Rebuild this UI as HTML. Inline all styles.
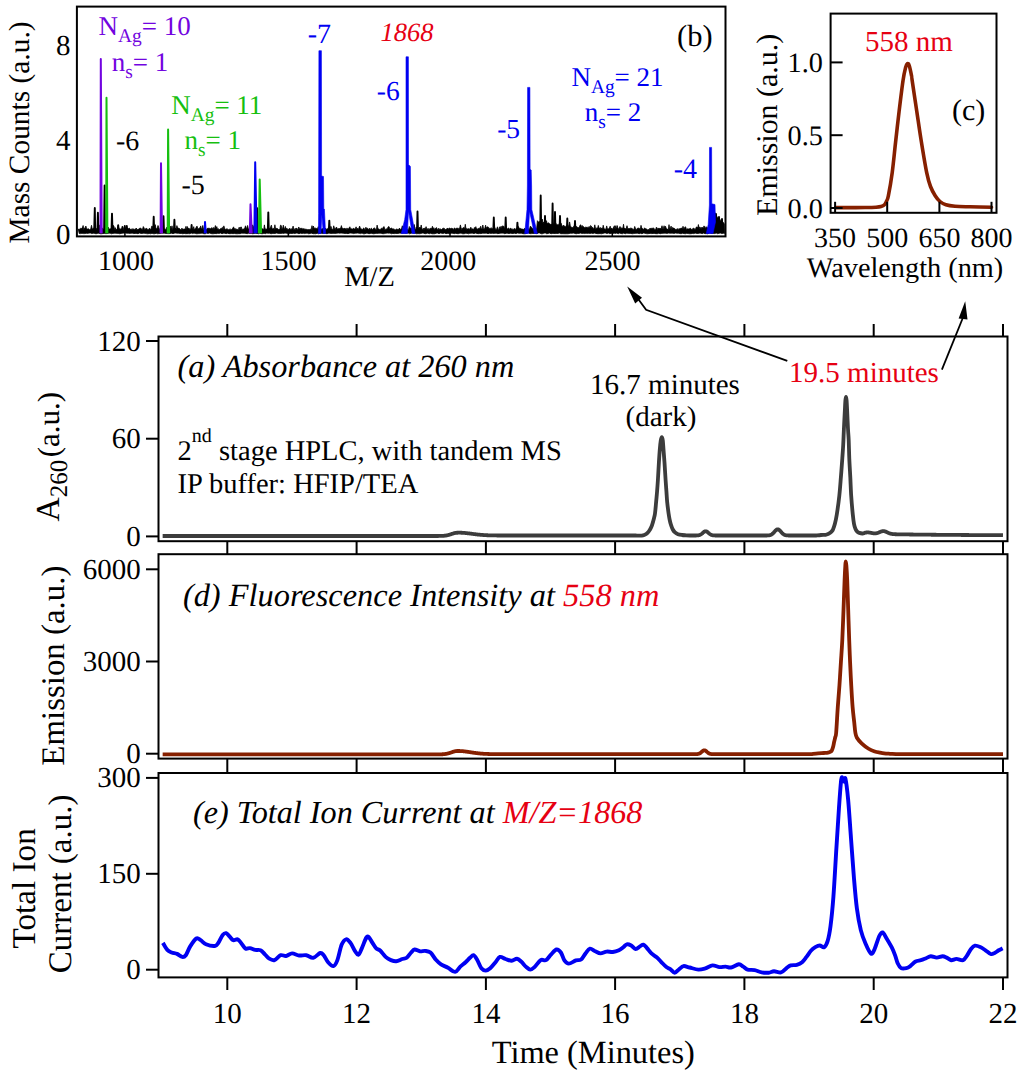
<!DOCTYPE html>
<html><head><meta charset="utf-8"><style>
html,body{margin:0;padding:0;background:#fff;width:1024px;height:1075px;overflow:hidden;}
svg{display:block;font-family:"Liberation Serif",serif;text-rendering:geometricPrecision;}
</style></head><body>
<svg width="1024" height="1075" viewBox="0 0 1024 1075" font-family="Liberation Serif, serif">
<path d="M78.20,228.80 L78.90,229.75 L79.60,228.92 L80.30,228.27 L81.00,229.16 L81.70,228.09 L82.40,228.08 L83.10,225.54 L83.80,229.83 L84.50,228.09 L85.20,227.42 L85.90,226.08 L86.60,228.78 L87.30,228.94 L88.00,228.90 L88.70,228.81 L89.40,229.90 L90.10,229.58 L90.80,228.53 L91.50,225.33 L92.20,228.70 L92.90,228.67 L93.60,228.01 L94.30,229.72 L95.00,229.86 L95.70,228.05 L96.40,229.46 L97.10,228.07 L97.80,229.83 L98.50,228.14 L99.20,224.87 L99.90,228.26 L100.60,225.75 L101.30,228.16 L102.00,228.13 L102.70,228.33 L103.40,229.84 L104.10,228.51 L104.80,228.32 L105.50,229.61 L106.20,228.10 L106.90,228.33 L107.60,229.45 L108.30,227.24 L109.00,229.07 L109.70,229.10 L110.40,228.81 L111.10,228.87 L111.80,228.20 L112.50,229.72 L113.20,225.33 L113.90,226.12 L114.60,229.66 L115.30,227.63 L116.00,229.83 L116.70,229.31 L117.40,229.55 L118.10,225.47 L118.80,228.04 L119.50,229.02 L120.20,229.13 L120.90,228.69 L121.60,228.44 L122.30,225.99 L123.00,227.03 L123.70,229.68 L124.40,229.21 L125.10,227.97 L125.80,227.94 L126.50,229.30 L127.20,227.94 L127.90,228.86 L128.60,228.54 L129.30,228.05 L130.00,229.37 L130.70,229.37 L131.40,229.49 L132.10,228.60 L132.80,229.70 L133.50,228.73 L134.20,229.63 L134.90,229.15 L135.60,229.07 L136.30,228.06 L137.00,229.89 L137.70,229.36 L138.40,229.37 L139.10,228.78 L139.80,228.07 L140.50,227.96 L141.20,228.86 L141.90,229.30 L142.60,229.13 L143.30,226.57 L144.00,227.78 L144.70,229.71 L145.40,228.78 L146.10,228.55 L146.80,228.30 L147.50,229.51 L148.20,229.66 L148.90,229.07 L149.60,228.17 L150.30,229.57 L151.00,229.32 L151.70,226.19 L152.40,226.29 L153.10,229.15 L153.80,228.53 L154.50,229.86 L155.20,224.61 L155.90,227.98 L156.60,229.04 L157.30,228.10 L158.00,225.49 L158.70,227.24 L159.40,229.16 L160.10,229.16 L160.80,229.51 L161.50,226.94 L162.20,225.94 L162.90,227.57 L163.60,228.59 L164.30,228.94 L165.00,229.41 L165.70,229.48 L166.40,228.07 L167.10,227.07 L167.80,229.15 L168.50,228.65 L169.20,229.66 L169.90,229.79 L170.60,226.18 L171.30,229.54 L172.00,225.82 L172.70,229.86 L173.40,228.97 L174.10,228.54 L174.80,229.61 L175.50,228.07 L176.20,229.00 L176.90,225.61 L177.60,228.03 L178.30,228.25 L179.00,228.06 L179.70,228.93 L180.40,229.58 L181.10,229.79 L181.80,228.18 L182.50,228.95 L183.20,229.36 L183.90,228.95 L184.60,229.02 L185.30,228.66 L186.00,226.32 L186.70,229.84 L187.40,226.55 L188.10,228.91 L188.80,227.96 L189.50,228.93 L190.20,229.50 L190.90,228.88 L191.60,228.03 L192.30,228.73 L193.00,229.75 L193.70,226.63 L194.40,229.53 L195.10,228.85 L195.80,228.28 L196.50,226.57 L197.20,226.31 L197.90,229.27 L198.60,228.61 L199.30,228.11 L200.00,228.15 L200.70,225.92 L201.40,228.77 L202.10,228.73 L202.80,225.45 L203.50,229.18 L204.20,229.60 L204.90,229.61 L205.60,229.38 L206.30,229.71 L207.00,228.53 L207.70,228.34 L208.40,228.00 L209.10,229.35 L209.80,228.09 L210.50,228.74 L211.20,228.15 L211.90,227.71 L212.60,229.26 L213.30,227.42 L214.00,229.42 L214.70,228.07 L215.40,225.57 L216.10,228.93 L216.80,226.62 L217.50,229.58 L218.20,228.58 L218.90,229.80 L219.60,229.43 L220.30,228.83 L221.00,228.76 L221.70,227.93 L222.40,227.32 L223.10,229.38 L223.80,225.86 L224.50,227.93 L225.20,229.50 L225.90,229.62 L226.60,228.71 L227.30,228.91 L228.00,229.51 L228.70,229.72 L229.40,229.46 L230.10,228.71 L230.80,229.66 L231.50,229.43 L232.20,228.71 L232.90,228.04 L233.60,226.84 L234.30,229.18 L235.00,228.36 L235.70,229.23 L236.40,229.22 L237.10,228.97 L237.80,229.90 L238.50,229.30 L239.20,227.14 L239.90,229.38 L240.60,227.16 L241.30,226.95 L242.00,229.71 L242.70,228.92 L243.40,229.04 L244.10,229.18 L244.80,228.05 L245.50,225.81 L246.20,228.22 L246.90,228.24 L247.60,225.48 L248.30,228.74 L249.00,229.10 L249.70,228.47 L250.40,229.02 L251.10,229.33 L251.80,227.93 L252.50,224.87 L253.20,228.68 L253.90,225.63 L254.60,226.25 L255.30,228.76 L256.00,229.85 L256.70,228.95 L257.40,229.35 L258.10,229.86 L258.80,226.36 L259.50,227.67 L260.20,226.72 L260.90,229.24 L261.60,228.42 L262.30,228.74 L263.00,228.96 L263.70,229.81 L264.40,224.88 L265.10,229.47 L265.80,228.62 L266.50,229.27 L267.20,229.08 L267.90,227.71 L268.60,229.86 L269.30,228.49 L270.00,228.44 L270.70,226.63 L271.40,225.15 L272.10,229.00 L272.80,228.65 L273.50,228.32 L274.20,229.39 L274.90,224.78 L275.60,229.15 L276.30,228.33 L277.00,228.42 L277.70,228.64 L278.40,229.88 L279.10,229.00 L279.80,229.74 L280.50,225.19 L281.20,225.48 L281.90,228.87 L282.60,228.50 L283.30,225.20 L284.00,228.06 L284.70,229.35 L285.40,226.46 L286.10,229.35 L286.80,228.13 L287.50,229.04 L288.20,229.78 L288.90,228.78 L289.60,228.51 L290.30,228.70 L291.00,229.69 L291.70,228.62 L292.40,228.63 L293.10,226.10 L293.80,229.49 L294.50,229.57 L295.20,228.25 L295.90,229.66 L296.60,227.94 L297.30,228.99 L298.00,229.83 L298.70,226.98 L299.40,228.25 L300.10,229.37 L300.80,228.07 L301.50,228.19 L302.20,229.20 L302.90,228.34 L303.60,228.94 L304.30,228.69 L305.00,229.84 L305.70,228.89 L306.40,229.34 L307.10,229.73 L307.80,229.55 L308.50,229.61 L309.20,229.57 L309.90,229.82 L310.60,228.95 L311.30,229.50 L312.00,225.67 L312.70,229.88 L313.40,226.05 L314.10,228.48 L314.80,228.02 L315.50,228.13 L316.20,228.28 L316.90,228.82 L317.60,228.41 L318.30,226.61 L319.00,229.33 L319.70,226.56 L320.40,228.25 L321.10,228.52 L321.80,229.53 L322.50,228.42 L323.20,229.73 L323.90,228.99 L324.60,228.87 L325.30,228.00 L326.00,229.50 L326.70,228.96 L327.40,228.45 L328.10,229.22 L328.80,227.92 L329.50,228.64 L330.20,229.33 L330.90,226.31 L331.60,228.42 L332.30,228.93 L333.00,229.89 L333.70,225.81 L334.40,227.90 L335.10,229.59 L335.80,228.06 L336.50,226.99 L337.20,228.84 L337.90,229.07 L338.60,228.51 L339.30,228.73 L340.00,228.08 L340.70,228.32 L341.40,225.62 L342.10,228.52 L342.80,228.05 L343.50,228.83 L344.20,228.62 L344.90,228.11 L345.60,228.82 L346.30,229.56 L347.00,227.92 L347.70,229.32 L348.40,229.03 L349.10,227.92 L349.80,226.77 L350.50,228.48 L351.20,228.98 L351.90,228.57 L352.60,229.23 L353.30,228.30 L354.00,228.56 L354.70,229.03 L355.40,228.56 L356.10,226.82 L356.80,229.26 L357.50,228.26 L358.20,229.57 L358.90,228.08 L359.60,226.08 L360.30,228.05 L361.00,228.75 L361.70,229.19 L362.40,229.54 L363.10,228.56 L363.80,227.93 L364.50,229.30 L365.20,229.48 L365.90,227.19 L366.60,228.58 L367.30,228.11 L368.00,228.92 L368.70,229.55 L369.40,228.22 L370.10,229.71 L370.80,228.61 L371.50,228.18 L372.20,229.87 L372.90,229.33 L373.60,228.29 L374.30,227.92 L375.00,228.39 L375.70,229.29 L376.40,229.76 L377.10,225.10 L377.80,228.17 L378.50,228.99 L379.20,229.02 L379.90,229.72 L380.60,229.54 L381.30,228.15 L382.00,228.48 L382.70,228.38 L383.40,227.03 L384.10,226.55 L384.80,229.87 L385.50,229.22 L386.20,229.24 L386.90,228.66 L387.60,227.95 L388.30,226.75 L389.00,226.58 L389.70,228.43 L390.40,228.56 L391.10,227.98 L391.80,228.19 L392.50,229.10 L393.20,228.72 L393.90,229.28 L394.60,229.40 L395.30,229.89 L396.00,229.61 L396.70,228.77 L397.40,229.71 L398.10,228.95 L398.80,229.71 L399.50,228.01 L400.20,229.70 L400.90,229.10 L401.60,228.51 L402.30,225.79 L403.00,228.91 L403.70,228.00 L404.40,228.95 L405.10,228.51 L405.80,224.82 L406.50,229.83 L407.20,229.63 L407.90,229.51 L408.60,229.39 L409.30,226.49 L410.00,228.15 L410.70,228.12 L411.40,228.50 L412.10,228.03 L412.80,229.53 L413.50,228.61 L414.20,224.48 L414.90,228.52 L415.60,229.77 L416.30,227.02 L417.00,229.75 L417.70,228.29 L418.40,228.61 L419.10,228.24 L419.80,227.12 L420.50,228.28 L421.20,224.97 L421.90,228.53 L422.60,229.64 L423.30,228.17 L424.00,229.78 L424.70,228.06 L425.40,228.51 L426.10,226.63 L426.80,229.23 L427.50,228.65 L428.20,229.67 L428.90,228.36 L429.60,229.75 L430.30,228.45 L431.00,228.08 L431.70,228.78 L432.40,226.28 L433.10,228.47 L433.80,227.71 L434.50,229.41 L435.20,228.46 L435.90,228.27 L436.60,227.58 L437.30,229.40 L438.00,229.76 L438.70,228.26 L439.40,229.19 L440.10,229.22 L440.80,228.93 L441.50,229.59 L442.20,228.94 L442.90,228.25 L443.60,228.23 L444.30,228.37 L445.00,229.45 L445.70,229.48 L446.40,228.88 L447.10,229.06 L447.80,227.97 L448.50,229.33 L449.20,228.22 L449.90,227.94 L450.60,228.77 L451.30,228.43 L452.00,228.05 L452.70,229.04 L453.40,229.48 L454.10,228.19 L454.80,227.98 L455.50,229.14 L456.20,228.43 L456.90,228.08 L457.60,228.24 L458.30,228.22 L459.00,229.56 L459.70,228.02 L460.40,224.91 L461.10,227.98 L461.80,229.42 L462.50,228.19 L463.20,227.72 L463.90,227.58 L464.60,228.50 L465.30,224.26 L466.00,229.43 L466.70,228.36 L467.40,229.00 L468.10,228.82 L468.80,228.63 L469.50,229.86 L470.20,227.98 L470.90,227.24 L471.60,229.29 L472.30,229.08 L473.00,228.83 L473.70,229.59 L474.40,227.49 L475.10,228.27 L475.80,226.63 L476.50,228.84 L477.20,228.79 L477.90,229.26 L478.60,228.31 L479.30,228.05 L480.00,228.63 L480.70,226.20 L481.40,228.69 L482.10,229.33 L482.80,225.00 L483.50,228.62 L484.20,229.35 L484.90,227.94 L485.60,225.20 L486.30,228.55 L487.00,226.84 L487.70,226.95 L488.40,227.22 L489.10,228.75 L489.80,228.17 L490.50,228.42 L491.20,227.66 L491.90,228.46 L492.60,228.71 L493.30,229.63 L494.00,228.48 L494.70,227.26 L495.40,229.16 L496.10,229.52 L496.80,228.50 L497.50,226.81 L498.20,229.23 L498.90,229.64 L499.60,226.97 L500.30,226.61 L501.00,228.56 L501.70,226.33 L502.40,225.99 L503.10,226.42 L503.80,226.11 L504.50,229.30 L505.20,227.20 L505.90,226.50 L506.60,228.01 L507.30,229.07 L508.00,228.55 L508.70,227.95 L509.40,229.68 L510.10,228.42 L510.80,228.27 L511.50,229.13 L512.20,228.63 L512.90,229.78 L513.60,229.15 L514.30,228.72 L515.00,228.45 L515.70,229.66 L516.40,228.34 L517.10,228.91 L517.80,228.62 L518.50,226.56 L519.20,229.26 L519.90,227.90 L520.60,228.69 L521.30,228.89 L522.00,229.00 L522.70,229.02 L523.40,229.84 L524.10,228.59 L524.80,228.53 L525.50,229.29 L526.20,229.83 L526.90,228.22 L527.60,228.88 L528.30,228.64 L529.00,229.40 L529.70,228.37 L530.40,226.11 L531.10,226.96 L531.80,228.10 L532.50,228.13 L533.20,229.44 L533.90,228.23 L534.60,227.93 L535.30,228.91 L536.00,228.68 L536.70,228.40 L537.40,220.68 L538.10,221.75 L538.80,222.09 L539.50,221.47 L540.20,222.07 L540.90,220.56 L541.60,222.54 L542.30,219.11 L543.00,223.43 L543.70,221.98 L544.40,222.72 L545.10,222.83 L545.80,221.18 L546.50,220.78 L547.20,223.96 L547.90,222.88 L548.60,222.83 L549.30,223.88 L550.00,223.67 L550.70,224.85 L551.40,224.09 L552.10,224.96 L552.80,224.32 L553.50,224.75 L554.20,222.77 L554.90,225.75 L555.60,223.06 L556.30,224.13 L557.00,224.48 L557.70,224.84 L558.40,225.35 L559.10,223.82 L559.80,226.36 L560.50,222.46 L561.20,223.31 L561.90,225.80 L562.60,226.53 L563.30,225.11 L564.00,226.38 L564.70,225.70 L565.40,226.95 L566.10,226.17 L566.80,225.73 L567.50,224.55 L568.20,226.21 L568.90,226.17 L569.60,221.95 L570.30,225.70 L571.00,227.36 L571.70,227.26 L572.40,227.46 L573.10,227.44 L573.80,226.16 L574.50,226.81 L575.20,226.56 L575.90,226.16 L576.60,226.61 L577.30,226.94 L578.00,227.87 L578.70,227.57 L579.40,226.89 L580.10,225.08 L580.80,224.82 L581.50,227.55 L582.20,225.45 L582.90,227.23 L583.60,226.59 L584.30,227.41 L585.00,227.71 L585.70,227.08 L586.40,227.35 L587.10,226.95 L587.80,227.63 L588.50,227.24 L589.20,226.47 L589.90,228.21 L590.60,225.53 L591.30,226.11 L592.00,227.69 L592.70,227.39 L593.40,228.76 L594.10,228.27 L594.80,224.82 L595.50,228.44 L596.20,228.41 L596.90,227.87 L597.60,228.32 L598.30,225.42 L599.00,228.06 L599.70,228.37 L600.40,227.51 L601.10,229.21 L601.80,227.86 L602.50,229.23 L603.20,225.24 L603.90,228.27 L604.60,228.99 L605.30,229.20 L606.00,228.93 L606.70,225.90 L607.40,228.79 L608.10,228.99 L608.80,228.47 L609.50,227.80 L610.20,226.15 L610.90,229.01 L611.60,227.93 L612.30,229.17 L613.00,228.57 L613.70,227.05 L614.40,225.72 L615.10,229.23 L615.80,225.66 L616.50,229.22 L617.20,225.57 L617.90,227.96 L618.60,229.31 L619.30,227.96 L620.00,226.48 L620.70,228.21 L621.40,228.15 L622.10,227.63 L622.80,228.99 L623.50,224.24 L624.20,228.84 L624.90,228.02 L625.60,229.02 L626.30,228.36 L627.00,225.70 L627.70,228.51 L628.40,228.48 L629.10,228.68 L629.80,228.37 L630.50,228.15 L631.20,228.26 L631.90,228.27 L632.60,229.05 L633.30,229.57 L634.00,229.19 L634.70,226.44 L635.40,228.28 L636.10,229.63 L636.80,229.12 L637.50,228.22 L638.20,228.00 L638.90,228.24 L639.60,228.43 L640.30,229.45 L641.00,225.34 L641.70,227.93 L642.40,228.51 L643.10,229.10 L643.80,229.56 L644.50,227.82 L645.20,228.71 L645.90,228.71 L646.60,229.12 L647.30,229.73 L648.00,229.77 L648.70,229.45 L649.40,229.20 L650.10,228.03 L650.80,228.70 L651.50,228.34 L652.20,228.32 L652.90,228.19 L653.60,227.92 L654.30,229.20 L655.00,229.38 L655.70,229.52 L656.40,227.14 L657.10,227.93 L657.80,229.79 L658.50,227.95 L659.20,228.97 L659.90,228.12 L660.60,228.50 L661.30,228.15 L662.00,225.73 L662.70,228.49 L663.40,228.39 L664.10,225.74 L664.80,229.02 L665.50,226.22 L666.20,228.21 L666.90,228.95 L667.60,229.12 L668.30,229.83 L669.00,224.63 L669.70,229.37 L670.40,228.21 L671.10,226.11 L671.80,229.83 L672.50,227.43 L673.20,228.06 L673.90,228.12 L674.60,228.56 L675.30,229.21 L676.00,229.79 L676.70,228.90 L677.40,228.69 L678.10,229.38 L678.80,228.64 L679.50,228.85 L680.20,228.76 L680.90,228.00 L681.60,228.02 L682.30,229.00 L683.00,226.30 L683.70,228.53 L684.40,228.36 L685.10,226.74 L685.80,227.17 L686.50,229.82 L687.20,229.10 L687.90,228.50 L688.60,229.08 L689.30,228.90 L690.00,228.15 L690.70,228.40 L691.40,229.49 L692.10,229.62 L692.80,228.47 L693.50,228.07 L694.20,229.56 L694.90,228.53 L695.60,229.48 L696.30,227.01 L697.00,227.00 L697.70,228.00 L698.40,224.56 L699.10,228.41 L699.80,226.91 L700.50,227.74 L701.20,228.87 L701.90,227.05 L702.60,227.78 L703.30,227.66 L704.00,225.88 L704.70,227.04 L705.40,228.57 L706.10,226.66 L706.80,227.52 L707.50,228.02 L708.20,227.32 L708.90,227.97 L709.60,227.15 L710.30,225.64 L711.00,227.66 L711.70,228.76 L712.40,229.28 L713.10,207.60 L713.80,210.79 L714.50,212.10 L715.20,213.18 L715.90,215.10 L716.60,215.69 L717.30,217.52 L718.00,217.86 L718.70,219.45 L719.40,219.62 L720.10,219.44 L720.80,220.70 L721.50,220.27 L722.20,221.45 L722.90,222.07 L723.60,222.80 L724.30,223.94 L724.60,233.39 L723.20,233.19 L721.80,233.60 L720.40,233.08 L719.00,233.25 L717.60,233.68 L716.20,233.03 L714.80,233.56 L713.40,233.45 L712.00,233.44 L710.60,233.27 L709.20,233.12 L707.80,233.76 L706.40,233.61 L705.00,233.64 L703.60,233.08 L702.20,233.63 L700.80,233.17 L699.40,233.16 L698.00,233.43 L696.60,233.49 L695.20,233.10 L693.80,233.61 L692.40,233.47 L691.00,233.72 L689.60,233.74 L688.20,233.55 L686.80,233.29 L685.40,233.76 L684.00,233.57 L682.60,233.23 L681.20,233.69 L679.80,233.58 L678.40,233.21 L677.00,233.20 L675.60,233.02 L674.20,233.43 L672.80,233.20 L671.40,233.23 L670.00,233.20 L668.60,233.11 L667.20,233.39 L665.80,233.22 L664.40,233.23 L663.00,233.22 L661.60,233.41 L660.20,233.70 L658.80,233.13 L657.40,233.69 L656.00,233.68 L654.60,233.49 L653.20,233.44 L651.80,233.59 L650.40,233.43 L649.00,233.53 L647.60,233.74 L646.20,233.62 L644.80,233.21 L643.40,233.04 L642.00,233.75 L640.60,233.29 L639.20,233.63 L637.80,233.19 L636.40,233.36 L635.00,233.30 L633.60,233.58 L632.20,233.75 L630.80,233.40 L629.40,233.45 L628.00,233.28 L626.60,233.19 L625.20,233.76 L623.80,233.09 L622.40,233.75 L621.00,233.53 L619.60,233.06 L618.20,233.72 L616.80,233.08 L615.40,233.45 L614.00,233.10 L612.60,233.79 L611.20,233.25 L609.80,233.70 L608.40,233.05 L607.00,233.53 L605.60,233.05 L604.20,233.02 L602.80,233.46 L601.40,233.79 L600.00,233.55 L598.60,233.68 L597.20,233.63 L595.80,233.42 L594.40,233.06 L593.00,233.42 L591.60,233.15 L590.20,233.42 L588.80,233.28 L587.40,233.40 L586.00,233.16 L584.60,233.56 L583.20,233.33 L581.80,233.39 L580.40,233.06 L579.00,233.39 L577.60,233.45 L576.20,233.78 L574.80,233.45 L573.40,233.11 L572.00,233.24 L570.60,233.27 L569.20,233.56 L567.80,233.75 L566.40,233.78 L565.00,233.76 L563.60,233.74 L562.20,233.69 L560.80,233.75 L559.40,233.02 L558.00,233.39 L556.60,233.47 L555.20,233.55 L553.80,233.49 L552.40,233.49 L551.00,233.75 L549.60,233.07 L548.20,233.42 L546.80,233.77 L545.40,233.03 L544.00,233.09 L542.60,233.70 L541.20,233.77 L539.80,233.02 L538.40,233.03 L537.00,233.66 L535.60,233.55 L534.20,233.42 L532.80,233.46 L531.40,233.61 L530.00,233.65 L528.60,233.00 L527.20,233.05 L525.80,233.64 L524.40,233.78 L523.00,233.67 L521.60,233.33 L520.20,233.27 L518.80,233.28 L517.40,233.01 L516.00,233.62 L514.60,233.21 L513.20,233.47 L511.80,233.42 L510.40,233.27 L509.00,233.54 L507.60,233.36 L506.20,233.19 L504.80,233.71 L503.40,233.14 L502.00,233.12 L500.60,233.20 L499.20,233.38 L497.80,233.63 L496.40,233.27 L495.00,233.19 L493.60,233.52 L492.20,233.21 L490.80,233.42 L489.40,233.20 L488.00,233.70 L486.60,233.15 L485.20,233.19 L483.80,233.24 L482.40,233.26 L481.00,233.58 L479.60,233.54 L478.20,233.63 L476.80,233.43 L475.40,233.06 L474.00,233.61 L472.60,233.20 L471.20,233.17 L469.80,233.33 L468.40,233.79 L467.00,233.30 L465.60,233.29 L464.20,233.73 L462.80,233.79 L461.40,233.31 L460.00,233.11 L458.60,233.63 L457.20,233.63 L455.80,233.27 L454.40,233.63 L453.00,233.30 L451.60,233.23 L450.20,233.47 L448.80,233.59 L447.40,233.38 L446.00,233.65 L444.60,233.01 L443.20,233.40 L441.80,233.30 L440.40,233.05 L439.00,233.73 L437.60,233.11 L436.20,233.16 L434.80,233.70 L433.40,233.77 L432.00,233.75 L430.60,233.27 L429.20,233.74 L427.80,233.11 L426.40,233.57 L425.00,233.76 L423.60,233.15 L422.20,233.11 L420.80,233.54 L419.40,233.71 L418.00,233.58 L416.60,233.76 L415.20,233.36 L413.80,233.30 L412.40,233.10 L411.00,233.22 L409.60,233.75 L408.20,233.06 L406.80,233.15 L405.40,233.28 L404.00,233.04 L402.60,233.25 L401.20,233.15 L399.80,233.10 L398.40,233.42 L397.00,233.43 L395.60,233.45 L394.20,233.61 L392.80,233.42 L391.40,233.76 L390.00,233.07 L388.60,233.18 L387.20,233.06 L385.80,233.25 L384.40,233.61 L383.00,233.74 L381.60,233.40 L380.20,233.13 L378.80,233.26 L377.40,233.45 L376.00,233.24 L374.60,233.63 L373.20,233.78 L371.80,233.37 L370.40,233.48 L369.00,233.68 L367.60,233.37 L366.20,233.15 L364.80,233.76 L363.40,233.78 L362.00,233.02 L360.60,233.61 L359.20,233.32 L357.80,233.04 L356.40,233.13 L355.00,233.14 L353.60,233.59 L352.20,233.17 L350.80,233.02 L349.40,233.18 L348.00,233.64 L346.60,233.40 L345.20,233.52 L343.80,233.37 L342.40,233.15 L341.00,233.01 L339.60,233.24 L338.20,233.03 L336.80,233.21 L335.40,233.50 L334.00,233.30 L332.60,233.38 L331.20,233.50 L329.80,233.25 L328.40,233.29 L327.00,233.71 L325.60,233.46 L324.20,233.33 L322.80,233.43 L321.40,233.37 L320.00,233.27 L318.60,233.73 L317.20,233.19 L315.80,233.75 L314.40,233.68 L313.00,233.71 L311.60,233.13 L310.20,233.41 L308.80,233.79 L307.40,233.23 L306.00,233.14 L304.60,233.58 L303.20,233.19 L301.80,233.47 L300.40,233.13 L299.00,233.76 L297.60,233.23 L296.20,233.08 L294.80,233.55 L293.40,233.28 L292.00,233.45 L290.60,233.40 L289.20,233.74 L287.80,233.41 L286.40,233.30 L285.00,233.00 L283.60,233.40 L282.20,233.22 L280.80,233.46 L279.40,233.51 L278.00,233.37 L276.60,233.07 L275.20,233.40 L273.80,233.39 L272.40,233.51 L271.00,233.78 L269.60,233.22 L268.20,233.35 L266.80,233.07 L265.40,233.64 L264.00,233.19 L262.60,233.66 L261.20,233.64 L259.80,233.20 L258.40,233.72 L257.00,233.40 L255.60,233.34 L254.20,233.44 L252.80,233.76 L251.40,233.39 L250.00,233.39 L248.60,233.23 L247.20,233.67 L245.80,233.40 L244.40,233.27 L243.00,233.16 L241.60,233.17 L240.20,233.67 L238.80,233.64 L237.40,233.78 L236.00,233.73 L234.60,233.55 L233.20,233.64 L231.80,233.57 L230.40,233.65 L229.00,233.64 L227.60,233.14 L226.20,233.65 L224.80,233.24 L223.40,233.20 L222.00,233.74 L220.60,233.02 L219.20,233.41 L217.80,233.27 L216.40,233.63 L215.00,233.49 L213.60,233.73 L212.20,233.75 L210.80,233.52 L209.40,233.05 L208.00,233.53 L206.60,233.09 L205.20,233.79 L203.80,233.70 L202.40,233.25 L201.00,233.15 L199.60,233.56 L198.20,233.61 L196.80,233.79 L195.40,233.50 L194.00,233.10 L192.60,233.58 L191.20,233.05 L189.80,233.69 L188.40,233.61 L187.00,233.63 L185.60,233.70 L184.20,233.46 L182.80,233.75 L181.40,233.51 L180.00,233.39 L178.60,233.31 L177.20,233.28 L175.80,233.02 L174.40,233.13 L173.00,233.64 L171.60,233.18 L170.20,233.52 L168.80,233.62 L167.40,233.56 L166.00,233.41 L164.60,233.25 L163.20,233.22 L161.80,233.15 L160.40,233.52 L159.00,233.55 L157.60,233.75 L156.20,233.26 L154.80,233.74 L153.40,233.73 L152.00,233.23 L150.60,233.76 L149.20,233.50 L147.80,233.77 L146.40,233.62 L145.00,233.27 L143.60,233.22 L142.20,233.42 L140.80,233.39 L139.40,233.03 L138.00,233.69 L136.60,233.43 L135.20,233.38 L133.80,233.60 L132.40,233.20 L131.00,233.16 L129.60,233.46 L128.20,233.19 L126.80,233.26 L125.40,233.06 L124.00,233.04 L122.60,233.28 L121.20,233.42 L119.80,233.76 L118.40,233.51 L117.00,233.33 L115.60,233.33 L114.20,233.19 L112.80,233.38 L111.40,233.77 L110.00,233.10 L108.60,233.35 L107.20,233.55 L105.80,233.61 L104.40,233.44 L103.00,233.51 L101.60,233.75 L100.20,233.72 L98.80,233.20 L97.40,233.43 L96.00,233.80 L94.60,233.42 L93.20,233.15 L91.80,233.61 L90.40,233.05 L89.00,233.12 L87.60,233.44 L86.20,233.22 L84.80,233.58 L83.40,233.58 L82.00,233.26 L80.60,233.61 L79.20,233.52 Z" fill="#000" stroke="#000" stroke-width="0.8" stroke-linejoin="round"/>
<path d="M94.2,231 L94.8,208.0 L95.2,231" fill="none" stroke="#000" stroke-width="1.9" stroke-linejoin="round"/>
<path d="M97.4,231 L97.9,212.8 L98.4,231" fill="none" stroke="#000" stroke-width="1.9" stroke-linejoin="round"/>
<path d="M104.1,231 L104.6,185.5 L105.1,231" fill="none" stroke="#000" stroke-width="1.9" stroke-linejoin="round"/>
<path d="M111.5,231 L112.0,213.6 L112.5,231" fill="none" stroke="#000" stroke-width="1.9" stroke-linejoin="round"/>
<path d="M117.7,231 L118.2,225.3 L118.7,231" fill="none" stroke="#000" stroke-width="1.9" stroke-linejoin="round"/>
<path d="M124.2,231 L124.8,226.0 L125.2,231" fill="none" stroke="#000" stroke-width="1.9" stroke-linejoin="round"/>
<path d="M126.3,231 L126.8,226.0 L127.3,231" fill="none" stroke="#000" stroke-width="1.9" stroke-linejoin="round"/>
<path d="M153.2,231 L153.7,216.7 L154.2,231" fill="none" stroke="#000" stroke-width="1.9" stroke-linejoin="round"/>
<path d="M163.0,231 L163.5,216.3 L164.0,231" fill="none" stroke="#000" stroke-width="1.9" stroke-linejoin="round"/>
<path d="M173.9,231 L174.4,219.8 L174.9,231" fill="none" stroke="#000" stroke-width="1.9" stroke-linejoin="round"/>
<path d="M191.1,231 L191.6,225.0 L192.1,231" fill="none" stroke="#000" stroke-width="1.9" stroke-linejoin="round"/>
<path d="M256.7,231 L257.2,208.3 L257.7,231" fill="none" stroke="#000" stroke-width="1.9" stroke-linejoin="round"/>
<path d="M267.8,231 L268.3,212.4 L268.8,231" fill="none" stroke="#000" stroke-width="1.9" stroke-linejoin="round"/>
<path d="M328.8,231 L329.3,220.6 L329.8,231" fill="none" stroke="#000" stroke-width="1.9" stroke-linejoin="round"/>
<path d="M417.0,231 L417.5,211.4 L418.0,231" fill="none" stroke="#000" stroke-width="1.9" stroke-linejoin="round"/>
<path d="M493.3,231 L493.8,217.5 L494.3,231" fill="none" stroke="#000" stroke-width="1.9" stroke-linejoin="round"/>
<path d="M505.2,231 L505.7,217.5 L506.2,231" fill="none" stroke="#000" stroke-width="1.9" stroke-linejoin="round"/>
<path d="M516.9,231 L517.4,222.6 L517.9,231" fill="none" stroke="#000" stroke-width="1.9" stroke-linejoin="round"/>
<path d="M540.2,231 L540.7,195.5 L541.2,231" fill="none" stroke="#000" stroke-width="1.9" stroke-linejoin="round"/>
<path d="M552.1,231 L552.6,203.5 L553.1,231" fill="none" stroke="#000" stroke-width="1.9" stroke-linejoin="round"/>
<path d="M554.5,231 L555.0,212.0 L555.5,231" fill="none" stroke="#000" stroke-width="1.9" stroke-linejoin="round"/>
<path d="M566.8,231 L567.3,218.5 L567.8,231" fill="none" stroke="#000" stroke-width="1.9" stroke-linejoin="round"/>
<path d="M574.5,231 L575.0,221.0 L575.5,231" fill="none" stroke="#000" stroke-width="1.9" stroke-linejoin="round"/>
<path d="M544.5,231 L545.0,216.0 L545.5,231" fill="none" stroke="#000" stroke-width="1.9" stroke-linejoin="round"/>
<path d="M559.5,231 L560.0,216.0 L560.5,231" fill="none" stroke="#000" stroke-width="1.9" stroke-linejoin="round"/>
<path d="M715.5,231 L716.0,214.0 L716.5,231" fill="none" stroke="#000" stroke-width="1.9" stroke-linejoin="round"/>
<path d="M718.5,231 L719.0,217.0 L719.5,231" fill="none" stroke="#000" stroke-width="1.9" stroke-linejoin="round"/>
<path d="M721.5,231 L722.0,219.0 L722.5,231" fill="none" stroke="#000" stroke-width="1.9" stroke-linejoin="round"/>
<path d="M100.5,233.3 L100.8,58.9 L101.7,233.3" fill="#7204e0" stroke="#7204e0" stroke-width="2.0" stroke-linejoin="round"/>
<path d="M106.2,233.3 L106.5,97.8 L107.4,233.3" fill="#16bf10" stroke="#16bf10" stroke-width="2.0" stroke-linejoin="round"/>
<path d="M160.6,233.3 L161.0,163.3 L162.0,233.3" fill="#7204e0" stroke="#7204e0" stroke-width="2.0" stroke-linejoin="round"/>
<path d="M167.7,233.3 L168.1,129.5 L169.1,233.3" fill="#16bf10" stroke="#16bf10" stroke-width="2.0" stroke-linejoin="round"/>
<path d="M204.8,233.3 L205.0,221.9 L205.8,233.3" fill="#0000f2" stroke="#0000f2" stroke-width="2.0" stroke-linejoin="round"/>
<path d="M249.8,233.3 L250.5,204.2 L251.8,233.3" fill="#7204e0" stroke="#7204e0" stroke-width="2.0" stroke-linejoin="round"/>
<path d="M254.4,233.3 L255.2,162.2 L256.6,233.3" fill="#0000f2" stroke="#0000f2" stroke-width="2.0" stroke-linejoin="round"/>
<path d="M258.9,233.3 L259.7,179.6 L261.1,233.3" fill="#16bf10" stroke="#16bf10" stroke-width="2.0" stroke-linejoin="round"/>
<path d="M318.4,233.5 L318.6,213.7 L318.9,50.7 L321.4,50.7 L321.6,176.0 L323.5,176.5 L323.8,208.7 L324.4,209.0 L325.6,233.5 L323.3,233.5 L321.8,214.5 L321.0,233.5 Z" fill="#0000f2" stroke="#0000f2" stroke-width="0.6" stroke-linejoin="round"/>
<path d="M401.3,233.5 L404.7,219.5 L406.0,209.5 L406.0,56.8 L408.4,56.8 L408.5,164.4 L410.4,166.4 L410.7,209.5 L415.1,233.5 L412.1,233.5 L408.5,211.0 L407.4,233.5 Z" fill="#0000f2" stroke="#0000f2" stroke-width="0.6" stroke-linejoin="round"/>
<path d="M524.7,233.5 L527.0,209.5 L527.4,185.0 L527.6,87.4 L529.9,87.4 L530.1,169.3 L531.2,170.0 L531.6,186.0 L531.8,209.5 L537.3,233.5 L534.3,233.5 L529.5,211.0 L528.4,233.5 Z" fill="#0000f2" stroke="#0000f2" stroke-width="0.6" stroke-linejoin="round"/>
<path d="M706.3,233.5 L708.2,224.5 L709.4,205.0 L709.5,147.4 L711.6,147.4 L711.8,203.8 L715.0,204.5 L715.5,222.0 L713.0,233.5 Z" fill="#0000f2" stroke="#0000f2" stroke-width="0.6" stroke-linejoin="round"/>
<line x1="124.9" y1="236" x2="124.9" y2="232" stroke="#000" stroke-width="1.5"/>
<line x1="288.3" y1="236" x2="288.3" y2="232" stroke="#000" stroke-width="1.5"/>
<line x1="450.0" y1="236" x2="450.0" y2="232" stroke="#000" stroke-width="1.5"/>
<line x1="612.3" y1="236" x2="612.3" y2="232" stroke="#000" stroke-width="1.5"/>
<rect x="76.9" y="6.6" width="648.6" height="229.8" fill="none" stroke="#000" stroke-width="2"/>
<path d="M835.50,207.60 C837.92,207.60 845.08,207.62 850.00,207.60 C854.92,207.58 860.67,207.57 865.00,207.50 C869.33,207.43 873.33,207.35 876.00,207.20 C878.67,207.05 879.58,207.00 881.00,206.60 C882.42,206.20 883.57,205.73 884.50,204.80 C885.43,203.87 885.95,202.52 886.60,201.00 C887.25,199.48 887.47,200.42 888.40,195.70 C889.33,190.98 891.00,181.65 892.20,172.70 C893.40,163.75 894.45,152.22 895.60,142.00 C896.75,131.78 897.87,121.62 899.10,111.40 C900.33,101.18 901.92,88.02 903.00,80.70 C904.08,73.38 904.87,70.35 905.60,67.50 C906.33,64.65 906.80,63.93 907.40,63.60 C908.00,63.27 908.50,63.43 909.20,65.50 C909.90,67.57 911.10,73.47 911.60,76.00 C912.10,78.53 911.33,74.80 912.20,80.70 C913.07,86.60 915.27,101.18 916.80,111.40 C918.33,121.62 919.75,131.78 921.40,142.00 C923.05,152.22 925.18,165.28 926.70,172.70 C928.22,180.12 929.08,182.67 930.50,186.50 C931.92,190.33 933.62,193.20 935.20,195.70 C936.78,198.20 938.22,199.98 940.00,201.50 C941.78,203.02 943.40,204.00 945.90,204.80 C948.40,205.60 950.98,205.97 955.00,206.30 C959.02,206.63 963.92,206.65 970.00,206.80 C976.08,206.95 987.92,207.13 991.50,207.20" fill="none" stroke="#862000" stroke-width="3.6" stroke-linejoin="round" stroke-linecap="round"/>
<rect x="830.6" y="13.6" width="165.9" height="199.2" fill="none" stroke="#000" stroke-width="2"/>
<line x1="830.6" y1="208.0" x2="842.6" y2="208.0" stroke="#000" stroke-width="2"/>
<line x1="830.6" y1="135.2" x2="842.6" y2="135.2" stroke="#000" stroke-width="2"/>
<line x1="830.6" y1="62.4" x2="842.6" y2="62.4" stroke="#000" stroke-width="2"/>
<line x1="835.1" y1="212.8" x2="835.1" y2="201.8" stroke="#000" stroke-width="2"/>
<line x1="887.2" y1="212.8" x2="887.2" y2="201.8" stroke="#000" stroke-width="2"/>
<line x1="939.4" y1="212.8" x2="939.4" y2="201.8" stroke="#000" stroke-width="2"/>
<line x1="991.5" y1="212.8" x2="991.5" y2="201.8" stroke="#000" stroke-width="2"/>
<rect x="158.5" y="336.5" width="849.0" height="204.7" fill="none" stroke="#000" stroke-width="2"/>
<rect x="158.5" y="554.2" width="849.0" height="204.4" fill="none" stroke="#000" stroke-width="2"/>
<rect x="158.5" y="773.0" width="849.0" height="204.4" fill="none" stroke="#000" stroke-width="2"/>
<line x1="227.3" y1="324.0" x2="227.3" y2="336.5" stroke="#000" stroke-width="2"/>
<line x1="227.3" y1="541.2" x2="227.3" y2="554.2" stroke="#000" stroke-width="2"/>
<line x1="227.3" y1="758.6" x2="227.3" y2="773.0" stroke="#000" stroke-width="2"/>
<line x1="227.3" y1="977.4" x2="227.3" y2="990.0" stroke="#000" stroke-width="2"/>
<line x1="356.6" y1="324.0" x2="356.6" y2="336.5" stroke="#000" stroke-width="2"/>
<line x1="356.6" y1="541.2" x2="356.6" y2="554.2" stroke="#000" stroke-width="2"/>
<line x1="356.6" y1="758.6" x2="356.6" y2="773.0" stroke="#000" stroke-width="2"/>
<line x1="356.6" y1="977.4" x2="356.6" y2="990.0" stroke="#000" stroke-width="2"/>
<line x1="485.9" y1="324.0" x2="485.9" y2="336.5" stroke="#000" stroke-width="2"/>
<line x1="485.9" y1="541.2" x2="485.9" y2="554.2" stroke="#000" stroke-width="2"/>
<line x1="485.9" y1="758.6" x2="485.9" y2="773.0" stroke="#000" stroke-width="2"/>
<line x1="485.9" y1="977.4" x2="485.9" y2="990.0" stroke="#000" stroke-width="2"/>
<line x1="615.1" y1="324.0" x2="615.1" y2="336.5" stroke="#000" stroke-width="2"/>
<line x1="615.1" y1="541.2" x2="615.1" y2="554.2" stroke="#000" stroke-width="2"/>
<line x1="615.1" y1="758.6" x2="615.1" y2="773.0" stroke="#000" stroke-width="2"/>
<line x1="615.1" y1="977.4" x2="615.1" y2="990.0" stroke="#000" stroke-width="2"/>
<line x1="744.4" y1="324.0" x2="744.4" y2="336.5" stroke="#000" stroke-width="2"/>
<line x1="744.4" y1="541.2" x2="744.4" y2="554.2" stroke="#000" stroke-width="2"/>
<line x1="744.4" y1="758.6" x2="744.4" y2="773.0" stroke="#000" stroke-width="2"/>
<line x1="744.4" y1="977.4" x2="744.4" y2="990.0" stroke="#000" stroke-width="2"/>
<line x1="873.7" y1="324.0" x2="873.7" y2="336.5" stroke="#000" stroke-width="2"/>
<line x1="873.7" y1="541.2" x2="873.7" y2="554.2" stroke="#000" stroke-width="2"/>
<line x1="873.7" y1="758.6" x2="873.7" y2="773.0" stroke="#000" stroke-width="2"/>
<line x1="873.7" y1="977.4" x2="873.7" y2="990.0" stroke="#000" stroke-width="2"/>
<line x1="1003.0" y1="324.0" x2="1003.0" y2="336.5" stroke="#000" stroke-width="2"/>
<line x1="1003.0" y1="541.2" x2="1003.0" y2="554.2" stroke="#000" stroke-width="2"/>
<line x1="1003.0" y1="758.6" x2="1003.0" y2="773.0" stroke="#000" stroke-width="2"/>
<line x1="1003.0" y1="977.4" x2="1003.0" y2="990.0" stroke="#000" stroke-width="2"/>
<line x1="146" y1="536.4" x2="158.5" y2="536.4" stroke="#000" stroke-width="2"/>
<line x1="146" y1="438.7" x2="158.5" y2="438.7" stroke="#000" stroke-width="2"/>
<line x1="146" y1="341.0" x2="158.5" y2="341.0" stroke="#000" stroke-width="2"/>
<line x1="146" y1="753.7" x2="158.5" y2="753.7" stroke="#000" stroke-width="2"/>
<line x1="146" y1="661.5" x2="158.5" y2="661.5" stroke="#000" stroke-width="2"/>
<line x1="146" y1="569.3" x2="158.5" y2="569.3" stroke="#000" stroke-width="2"/>
<line x1="146" y1="969.7" x2="158.5" y2="969.7" stroke="#000" stroke-width="2"/>
<line x1="146" y1="873.8" x2="158.5" y2="873.8" stroke="#000" stroke-width="2"/>
<line x1="146" y1="777.9" x2="158.5" y2="777.9" stroke="#000" stroke-width="2"/>
<path d="M162.66,535.99 L162.98,535.99 L163.31,535.99 L163.63,535.99 L163.95,535.99 L164.28,535.99 L164.60,535.99 L164.92,535.99 L165.25,535.99 L165.57,535.99 L165.89,535.99 L166.22,535.99 L166.54,535.99 L166.86,535.99 L167.18,535.99 L167.51,535.99 L167.83,535.99 L168.15,535.99 L168.48,535.99 L168.80,535.99 L169.12,535.99 L169.45,535.99 L169.77,535.99 L170.09,535.99 L170.42,535.99 L170.74,535.99 L171.06,535.99 L171.39,535.99 L171.71,535.99 L172.03,535.99 L172.36,535.99 L172.68,535.99 L173.00,535.99 L173.33,535.99 L173.65,535.99 L173.97,535.99 L174.30,535.99 L174.62,535.99 L174.94,535.99 L175.26,535.99 L175.59,535.99 L175.91,535.99 L176.23,535.99 L176.56,535.99 L176.88,535.99 L177.20,535.99 L177.53,535.99 L177.85,535.99 L178.17,535.99 L178.50,535.99 L178.82,535.99 L179.14,535.99 L179.47,535.99 L179.79,535.99 L180.11,535.99 L180.44,535.99 L180.76,535.99 L181.08,535.99 L181.41,535.99 L181.73,535.99 L182.05,535.99 L182.38,535.99 L182.70,535.99 L183.02,535.99 L183.34,535.99 L183.67,535.99 L183.99,535.99 L184.31,535.99 L184.64,535.99 L184.96,535.99 L185.28,535.99 L185.61,535.99 L185.93,535.99 L186.25,535.99 L186.58,535.99 L186.90,535.99 L187.22,535.99 L187.55,535.99 L187.87,535.99 L188.19,535.99 L188.52,535.99 L188.84,535.99 L189.16,535.99 L189.49,535.99 L189.81,535.99 L190.13,535.99 L190.46,535.99 L190.78,535.99 L191.10,535.99 L191.42,535.99 L191.75,535.99 L192.07,535.99 L192.39,535.99 L192.72,535.99 L193.04,535.99 L193.36,535.99 L193.69,535.99 L194.01,535.99 L194.33,535.99 L194.66,535.99 L194.98,535.99 L195.30,535.99 L195.63,535.99 L195.95,535.99 L196.27,535.99 L196.60,535.99 L196.92,535.99 L197.24,535.99 L197.57,535.99 L197.89,535.99 L198.21,535.99 L198.54,535.99 L198.86,535.99 L199.18,535.99 L199.50,535.99 L199.83,535.99 L200.15,535.99 L200.47,535.99 L200.80,535.99 L201.12,535.99 L201.44,535.99 L201.77,535.99 L202.09,535.99 L202.41,535.99 L202.74,535.99 L203.06,535.99 L203.38,535.99 L203.71,535.99 L204.03,535.99 L204.35,535.99 L204.68,535.99 L205.00,535.99 L205.32,535.99 L205.65,535.99 L205.97,535.99 L206.29,535.99 L206.62,535.99 L206.94,535.99 L207.26,535.99 L207.58,535.99 L207.91,535.99 L208.23,535.99 L208.55,535.99 L208.88,535.99 L209.20,535.99 L209.52,535.99 L209.85,535.99 L210.17,535.99 L210.49,535.99 L210.82,535.99 L211.14,535.99 L211.46,535.99 L211.79,535.99 L212.11,535.99 L212.43,535.99 L212.76,535.99 L213.08,535.99 L213.40,535.99 L213.73,535.99 L214.05,535.99 L214.37,535.99 L214.70,535.99 L215.02,535.99 L215.34,535.99 L215.66,535.99 L215.99,535.99 L216.31,535.99 L216.63,535.99 L216.96,535.99 L217.28,535.99 L217.60,535.99 L217.93,535.99 L218.25,535.99 L218.57,535.99 L218.90,535.99 L219.22,535.99 L219.54,535.99 L219.87,535.99 L220.19,535.99 L220.51,535.99 L220.84,535.99 L221.16,535.99 L221.48,535.99 L221.81,535.99 L222.13,535.99 L222.45,535.99 L222.78,535.99 L223.10,535.99 L223.42,535.99 L223.74,535.99 L224.07,535.99 L224.39,535.99 L224.71,535.99 L225.04,535.99 L225.36,535.99 L225.68,535.99 L226.01,535.99 L226.33,535.99 L226.65,535.99 L226.98,535.99 L227.30,535.99 L227.62,535.99 L227.95,535.99 L228.27,535.99 L228.59,535.99 L228.92,535.99 L229.24,535.99 L229.56,535.99 L229.89,535.99 L230.21,535.99 L230.53,535.99 L230.86,535.99 L231.18,535.99 L231.50,535.99 L231.82,535.99 L232.15,535.99 L232.47,535.99 L232.79,535.99 L233.12,535.99 L233.44,535.99 L233.76,535.99 L234.09,535.99 L234.41,535.99 L234.73,535.99 L235.06,535.99 L235.38,535.99 L235.70,535.99 L236.03,535.99 L236.35,535.99 L236.67,535.99 L237.00,535.99 L237.32,535.99 L237.64,535.99 L237.97,535.99 L238.29,535.99 L238.61,535.99 L238.94,535.99 L239.26,535.99 L239.58,535.99 L239.90,535.99 L240.23,535.99 L240.55,535.99 L240.87,535.99 L241.20,535.99 L241.52,535.99 L241.84,535.99 L242.17,535.99 L242.49,535.99 L242.81,535.99 L243.14,535.99 L243.46,535.99 L243.78,535.99 L244.11,535.99 L244.43,535.99 L244.75,535.99 L245.08,535.99 L245.40,535.99 L245.72,535.99 L246.05,535.99 L246.37,535.99 L246.69,535.99 L247.02,535.99 L247.34,535.99 L247.66,535.99 L247.98,535.99 L248.31,535.99 L248.63,535.99 L248.95,535.99 L249.28,535.99 L249.60,535.99 L249.92,535.99 L250.25,535.99 L250.57,535.99 L250.89,535.99 L251.22,535.99 L251.54,535.99 L251.86,535.99 L252.19,535.99 L252.51,535.99 L252.83,535.99 L253.16,535.99 L253.48,535.99 L253.80,535.99 L254.13,535.99 L254.45,535.99 L254.77,535.99 L255.10,535.99 L255.42,535.99 L255.74,535.99 L256.06,535.99 L256.39,535.99 L256.71,535.99 L257.03,535.99 L257.36,535.99 L257.68,535.99 L258.00,535.99 L258.33,535.99 L258.65,535.99 L258.97,535.99 L259.30,535.99 L259.62,535.99 L259.94,535.99 L260.27,535.99 L260.59,535.99 L260.91,535.99 L261.24,535.99 L261.56,535.99 L261.88,535.99 L262.21,535.99 L262.53,535.99 L262.85,535.99 L263.18,535.99 L263.50,535.99 L263.82,535.99 L264.14,535.99 L264.47,535.99 L264.79,535.99 L265.11,535.99 L265.44,535.99 L265.76,535.99 L266.08,535.99 L266.41,535.99 L266.73,535.99 L267.05,535.99 L267.38,535.99 L267.70,535.99 L268.02,535.99 L268.35,535.99 L268.67,535.99 L268.99,535.99 L269.32,535.99 L269.64,535.99 L269.96,535.99 L270.29,535.99 L270.61,535.99 L270.93,535.99 L271.26,535.99 L271.58,535.99 L271.90,535.99 L272.22,535.99 L272.55,535.99 L272.87,535.99 L273.19,535.99 L273.52,535.99 L273.84,535.99 L274.16,535.99 L274.49,535.99 L274.81,535.99 L275.13,535.99 L275.46,535.99 L275.78,535.99 L276.10,535.99 L276.43,535.99 L276.75,535.99 L277.07,535.99 L277.40,535.99 L277.72,535.99 L278.04,535.99 L278.37,535.99 L278.69,535.99 L279.01,535.99 L279.34,535.99 L279.66,535.99 L279.98,535.99 L280.30,535.99 L280.63,535.99 L280.95,535.99 L281.27,535.99 L281.60,535.99 L281.92,535.99 L282.24,535.99 L282.57,535.99 L282.89,535.99 L283.21,535.99 L283.54,535.99 L283.86,535.99 L284.18,535.99 L284.51,535.99 L284.83,535.99 L285.15,535.99 L285.48,535.99 L285.80,535.99 L286.12,535.99 L286.45,535.99 L286.77,535.99 L287.09,535.99 L287.42,535.99 L287.74,535.99 L288.06,535.99 L288.38,535.99 L288.71,535.99 L289.03,535.99 L289.35,535.99 L289.68,535.99 L290.00,535.99 L290.32,535.99 L290.65,535.99 L290.97,535.99 L291.29,535.99 L291.62,535.99 L291.94,535.99 L292.26,535.99 L292.59,535.99 L292.91,535.99 L293.23,535.99 L293.56,535.99 L293.88,535.99 L294.20,535.99 L294.53,535.99 L294.85,535.99 L295.17,535.99 L295.50,535.99 L295.82,535.99 L296.14,535.99 L296.46,535.99 L296.79,535.99 L297.11,535.99 L297.43,535.99 L297.76,535.99 L298.08,535.99 L298.40,535.99 L298.73,535.99 L299.05,535.99 L299.37,535.99 L299.70,535.99 L300.02,535.99 L300.34,535.99 L300.67,535.99 L300.99,535.99 L301.31,535.99 L301.64,535.99 L301.96,535.99 L302.28,535.99 L302.61,535.99 L302.93,535.99 L303.25,535.99 L303.58,535.99 L303.90,535.99 L304.22,535.99 L304.54,535.99 L304.87,535.99 L305.19,535.99 L305.51,535.99 L305.84,535.99 L306.16,535.99 L306.48,535.99 L306.81,535.99 L307.13,535.99 L307.45,535.99 L307.78,535.99 L308.10,535.99 L308.42,535.99 L308.75,535.99 L309.07,535.99 L309.39,535.99 L309.72,535.99 L310.04,535.99 L310.36,535.99 L310.69,535.99 L311.01,535.99 L311.33,535.99 L311.66,535.99 L311.98,535.99 L312.30,535.99 L312.62,535.99 L312.95,535.99 L313.27,535.99 L313.59,535.99 L313.92,535.99 L314.24,535.99 L314.56,535.99 L314.89,535.99 L315.21,535.99 L315.53,535.99 L315.86,535.99 L316.18,535.99 L316.50,535.99 L316.83,535.99 L317.15,535.99 L317.47,535.99 L317.80,535.99 L318.12,535.99 L318.44,535.99 L318.77,535.99 L319.09,535.99 L319.41,535.99 L319.74,535.99 L320.06,535.99 L320.38,535.99 L320.70,535.99 L321.03,535.99 L321.35,535.99 L321.67,535.99 L322.00,535.99 L322.32,535.99 L322.64,535.99 L322.97,535.99 L323.29,535.99 L323.61,535.99 L323.94,535.99 L324.26,535.99 L324.58,535.99 L324.91,535.99 L325.23,535.99 L325.55,535.99 L325.88,535.99 L326.20,535.99 L326.52,535.99 L326.85,535.99 L327.17,535.99 L327.49,535.99 L327.82,535.99 L328.14,535.99 L328.46,535.99 L328.78,535.99 L329.11,535.99 L329.43,535.99 L329.75,535.99 L330.08,535.99 L330.40,535.99 L330.72,535.99 L331.05,535.99 L331.37,535.99 L331.69,535.99 L332.02,535.99 L332.34,535.99 L332.66,535.99 L332.99,535.99 L333.31,535.99 L333.63,535.99 L333.96,535.99 L334.28,535.99 L334.60,535.99 L334.93,535.99 L335.25,535.99 L335.57,535.99 L335.90,535.99 L336.22,535.99 L336.54,535.99 L336.86,535.99 L337.19,535.99 L337.51,535.99 L337.83,535.99 L338.16,535.99 L338.48,535.99 L338.80,535.99 L339.13,535.99 L339.45,535.99 L339.77,535.99 L340.10,535.99 L340.42,535.99 L340.74,535.99 L341.07,535.99 L341.39,535.99 L341.71,535.99 L342.04,535.99 L342.36,535.99 L342.68,535.99 L343.01,535.99 L343.33,535.99 L343.65,535.99 L343.98,535.99 L344.30,535.99 L344.62,535.99 L344.94,535.99 L345.27,535.99 L345.59,535.99 L345.91,535.99 L346.24,535.99 L346.56,535.99 L346.88,535.99 L347.21,535.99 L347.53,535.99 L347.85,535.99 L348.18,535.99 L348.50,535.99 L348.82,535.99 L349.15,535.99 L349.47,535.99 L349.79,535.99 L350.12,535.99 L350.44,535.99 L350.76,535.99 L351.09,535.99 L351.41,535.99 L351.73,535.99 L352.06,535.99 L352.38,535.99 L352.70,535.99 L353.02,535.99 L353.35,535.99 L353.67,535.99 L353.99,535.99 L354.32,535.99 L354.64,535.99 L354.96,535.99 L355.29,535.99 L355.61,535.99 L355.93,535.99 L356.26,535.99 L356.58,535.99 L356.90,535.99 L357.23,535.99 L357.55,535.99 L357.87,535.99 L358.20,535.99 L358.52,535.99 L358.84,535.99 L359.17,535.99 L359.49,535.99 L359.81,535.99 L360.14,535.99 L360.46,535.99 L360.78,535.99 L361.10,535.99 L361.43,535.99 L361.75,535.99 L362.07,535.99 L362.40,535.99 L362.72,535.99 L363.04,535.99 L363.37,535.99 L363.69,535.99 L364.01,535.99 L364.34,535.99 L364.66,535.99 L364.98,535.99 L365.31,535.99 L365.63,535.99 L365.95,535.99 L366.28,535.99 L366.60,535.99 L366.92,535.99 L367.25,535.99 L367.57,535.99 L367.89,535.99 L368.22,535.99 L368.54,535.99 L368.86,535.99 L369.18,535.99 L369.51,535.99 L369.83,535.99 L370.15,535.99 L370.48,535.99 L370.80,535.99 L371.12,535.99 L371.45,535.99 L371.77,535.99 L372.09,535.99 L372.42,535.99 L372.74,535.99 L373.06,535.99 L373.39,535.99 L373.71,535.99 L374.03,535.99 L374.36,535.99 L374.68,535.99 L375.00,535.99 L375.33,535.99 L375.65,535.99 L375.97,535.99 L376.30,535.99 L376.62,535.99 L376.94,535.99 L377.26,535.99 L377.59,535.99 L377.91,535.99 L378.23,535.99 L378.56,535.99 L378.88,535.99 L379.20,535.99 L379.53,535.99 L379.85,535.99 L380.17,535.99 L380.50,535.99 L380.82,535.99 L381.14,535.99 L381.47,535.99 L381.79,535.99 L382.11,535.99 L382.44,535.99 L382.76,535.99 L383.08,535.99 L383.41,535.99 L383.73,535.99 L384.05,535.99 L384.38,535.99 L384.70,535.99 L385.02,535.99 L385.34,535.99 L385.67,535.99 L385.99,535.99 L386.31,535.99 L386.64,535.99 L386.96,535.99 L387.28,535.99 L387.61,535.99 L387.93,535.99 L388.25,535.99 L388.58,535.99 L388.90,535.99 L389.22,535.99 L389.55,535.99 L389.87,535.99 L390.19,535.99 L390.52,535.99 L390.84,535.99 L391.16,535.99 L391.49,535.99 L391.81,535.99 L392.13,535.99 L392.46,535.99 L392.78,535.99 L393.10,535.99 L393.42,535.99 L393.75,535.99 L394.07,535.99 L394.39,535.99 L394.72,535.99 L395.04,535.99 L395.36,535.99 L395.69,535.99 L396.01,535.99 L396.33,535.99 L396.66,535.99 L396.98,535.99 L397.30,535.99 L397.63,535.99 L397.95,535.99 L398.27,535.99 L398.60,535.99 L398.92,535.99 L399.24,535.99 L399.57,535.99 L399.89,535.99 L400.21,535.99 L400.54,535.99 L400.86,535.99 L401.18,535.99 L401.50,535.99 L401.83,535.99 L402.15,535.99 L402.47,535.99 L402.80,535.99 L403.12,535.99 L403.44,535.99 L403.77,535.99 L404.09,535.99 L404.41,535.99 L404.74,535.99 L405.06,535.99 L405.38,535.99 L405.71,535.99 L406.03,535.99 L406.35,535.99 L406.68,535.99 L407.00,535.99 L407.32,535.99 L407.65,535.99 L407.97,535.99 L408.29,535.99 L408.62,535.99 L408.94,535.99 L409.26,535.99 L409.58,535.99 L409.91,535.99 L410.23,535.99 L410.55,535.99 L410.88,535.99 L411.20,535.99 L411.52,535.99 L411.85,535.99 L412.17,535.99 L412.49,535.99 L412.82,535.99 L413.14,535.99 L413.46,535.99 L413.79,535.99 L414.11,535.99 L414.43,535.99 L414.76,535.99 L415.08,535.99 L415.40,535.99 L415.73,535.99 L416.05,535.99 L416.37,535.99 L416.70,535.99 L417.02,535.99 L417.34,535.99 L417.66,535.99 L417.99,535.99 L418.31,535.99 L418.63,535.99 L418.96,535.99 L419.28,535.99 L419.60,535.99 L419.93,535.99 L420.25,535.99 L420.57,535.99 L420.90,535.99 L421.22,535.99 L421.54,535.99 L421.87,535.99 L422.19,535.99 L422.51,535.99 L422.84,535.99 L423.16,535.99 L423.48,535.99 L423.81,535.99 L424.13,535.99 L424.45,535.99 L424.78,535.99 L425.10,535.99 L425.42,535.99 L425.74,535.99 L426.07,535.99 L426.39,535.99 L426.71,535.99 L427.04,535.99 L427.36,535.99 L427.68,535.99 L428.01,535.99 L428.33,535.99 L428.65,535.99 L428.98,535.99 L429.30,535.99 L429.62,535.99 L429.95,535.99 L430.27,535.99 L430.59,535.99 L430.92,535.99 L431.24,535.99 L431.56,535.99 L431.89,535.99 L432.21,535.99 L432.53,535.99 L432.86,535.99 L433.18,535.99 L433.50,535.99 L433.82,535.99 L434.15,535.99 L434.47,535.99 L434.79,535.99 L435.12,535.99 L435.44,535.99 L435.76,535.99 L436.09,535.99 L436.41,535.99 L436.73,535.99 L437.06,535.99 L437.38,535.98 L437.70,535.98 L438.03,535.98 L438.35,535.98 L438.67,535.97 L439.00,535.97 L439.32,535.97 L439.64,535.96 L439.97,535.96 L440.29,535.95 L440.61,535.94 L440.94,535.93 L441.26,535.92 L441.58,535.91 L441.90,535.90 L442.23,535.89 L442.55,535.87 L442.87,535.85 L443.20,535.83 L443.52,535.81 L443.84,535.78 L444.17,535.75 L444.49,535.72 L444.81,535.68 L445.14,535.64 L445.46,535.60 L445.78,535.55 L446.11,535.50 L446.43,535.45 L446.75,535.39 L447.08,535.32 L447.40,535.25 L447.72,535.18 L448.05,535.10 L448.37,535.02 L448.69,534.94 L449.02,534.85 L449.34,534.75 L449.66,534.65 L449.98,534.55 L450.31,534.45 L450.63,534.34 L450.95,534.24 L451.28,534.13 L451.60,534.02 L451.92,533.91 L452.25,533.80 L452.57,533.69 L452.89,533.59 L453.22,533.48 L453.54,533.39 L453.86,533.29 L454.19,533.20 L454.51,533.12 L454.83,533.04 L455.16,532.97 L455.48,532.91 L455.80,532.86 L456.13,532.82 L456.45,532.78 L456.77,532.76 L457.10,532.74 L457.42,532.74 L457.74,532.73 L458.06,532.72 L458.39,532.71 L458.71,532.70 L459.03,532.70 L459.36,532.70 L459.68,532.70 L460.00,532.71 L460.33,532.71 L460.65,532.72 L460.97,532.73 L461.30,532.74 L461.62,532.75 L461.94,532.76 L462.27,532.78 L462.59,532.80 L462.91,532.82 L463.24,532.84 L463.56,532.86 L463.88,532.89 L464.21,532.91 L464.53,532.94 L464.85,532.97 L465.18,533.00 L465.50,533.03 L465.82,533.06 L466.14,533.09 L466.47,533.13 L466.79,533.16 L467.11,533.20 L467.44,533.24 L467.76,533.27 L468.08,533.31 L468.41,533.35 L468.73,533.39 L469.05,533.43 L469.38,533.47 L469.70,533.51 L470.02,533.55 L470.35,533.60 L470.67,533.64 L470.99,533.68 L471.32,533.72 L471.64,533.76 L471.96,533.81 L472.29,533.85 L472.61,533.89 L472.93,533.93 L473.26,533.98 L473.58,534.02 L473.90,534.06 L474.22,534.10 L474.55,534.14 L474.87,534.18 L475.19,534.22 L475.52,534.26 L475.84,534.30 L476.16,534.34 L476.49,534.38 L476.81,534.42 L477.13,534.45 L477.46,534.49 L477.78,534.52 L478.10,534.56 L478.43,534.59 L478.75,534.63 L479.07,534.66 L479.40,534.69 L479.72,534.72 L480.04,534.75 L480.37,534.78 L480.69,534.81 L481.01,534.84 L481.34,534.87 L481.66,534.90 L481.98,534.92 L482.30,534.95 L482.63,534.97 L482.95,535.00 L483.27,535.02 L483.60,535.04 L483.92,535.06 L484.24,535.09 L484.57,535.11 L484.89,535.13 L485.21,535.14 L485.54,535.16 L485.86,535.18 L486.18,535.20 L486.51,535.21 L486.83,535.23 L487.15,535.24 L487.48,535.26 L487.80,535.27 L488.12,535.28 L488.45,535.30 L488.77,535.31 L489.09,535.32 L489.42,535.33 L489.74,535.34 L490.06,535.35 L490.38,535.36 L490.71,535.37 L491.03,535.38 L491.35,535.39 L491.68,535.40 L492.00,535.40 L492.32,535.41 L492.65,535.42 L492.97,535.42 L493.29,535.43 L493.62,535.43 L493.94,535.44 L494.26,535.44 L494.59,535.45 L494.91,535.45 L495.23,535.46 L495.56,535.46 L495.88,535.47 L496.20,535.47 L496.53,535.47 L496.85,535.48 L497.17,535.48 L497.50,535.48 L497.82,535.48 L498.14,535.49 L498.46,535.49 L498.79,535.49 L499.11,535.49 L499.43,535.49 L499.76,535.50 L500.08,535.50 L500.40,535.50 L500.73,535.50 L501.05,535.50 L501.37,535.50 L501.70,535.50 L502.02,535.50 L502.34,535.50 L502.67,535.51 L502.99,535.51 L503.31,535.51 L503.64,535.51 L503.96,535.51 L504.28,535.51 L504.61,535.51 L504.93,535.51 L505.25,535.51 L505.58,535.51 L505.90,535.51 L506.22,535.51 L506.54,535.51 L506.87,535.51 L507.19,535.51 L507.51,535.51 L507.84,535.51 L508.16,535.51 L508.48,535.51 L508.81,535.51 L509.13,535.51 L509.45,535.51 L509.78,535.51 L510.10,535.51 L510.42,535.51 L510.75,535.51 L511.07,535.51 L511.39,535.51 L511.72,535.51 L512.04,535.51 L512.36,535.51 L512.69,535.51 L513.01,535.51 L513.33,535.51 L513.66,535.51 L513.98,535.51 L514.30,535.51 L514.62,535.51 L514.95,535.51 L515.27,535.51 L515.59,535.51 L515.92,535.51 L516.24,535.51 L516.56,535.51 L516.89,535.51 L517.21,535.51 L517.53,535.51 L517.86,535.51 L518.18,535.51 L518.50,535.51 L518.83,535.51 L519.15,535.51 L519.47,535.51 L519.80,535.51 L520.12,535.51 L520.44,535.51 L520.77,535.51 L521.09,535.51 L521.41,535.51 L521.74,535.51 L522.06,535.51 L522.38,535.51 L522.70,535.51 L523.03,535.51 L523.35,535.51 L523.67,535.51 L524.00,535.51 L524.32,535.51 L524.64,535.51 L524.97,535.51 L525.29,535.51 L525.61,535.51 L525.94,535.51 L526.26,535.51 L526.58,535.51 L526.91,535.51 L527.23,535.51 L527.55,535.51 L527.88,535.51 L528.20,535.51 L528.52,535.51 L528.85,535.51 L529.17,535.51 L529.49,535.51 L529.82,535.51 L530.14,535.51 L530.46,535.51 L530.78,535.51 L531.11,535.51 L531.43,535.51 L531.75,535.51 L532.08,535.51 L532.40,535.51 L532.72,535.51 L533.05,535.51 L533.37,535.51 L533.69,535.51 L534.02,535.51 L534.34,535.51 L534.66,535.51 L534.99,535.51 L535.31,535.51 L535.63,535.51 L535.96,535.51 L536.28,535.51 L536.60,535.51 L536.93,535.51 L537.25,535.51 L537.57,535.51 L537.90,535.51 L538.22,535.51 L538.54,535.51 L538.86,535.51 L539.19,535.51 L539.51,535.51 L539.83,535.51 L540.16,535.51 L540.48,535.51 L540.80,535.51 L541.13,535.51 L541.45,535.51 L541.77,535.51 L542.10,535.51 L542.42,535.51 L542.74,535.51 L543.07,535.51 L543.39,535.51 L543.71,535.51 L544.04,535.51 L544.36,535.51 L544.68,535.50 L545.01,535.50 L545.33,535.50 L545.65,535.50 L545.98,535.50 L546.30,535.50 L546.62,535.50 L546.94,535.50 L547.27,535.50 L547.59,535.50 L547.91,535.50 L548.24,535.50 L548.56,535.50 L548.88,535.50 L549.21,535.50 L549.53,535.50 L549.85,535.50 L550.18,535.50 L550.50,535.50 L550.82,535.50 L551.15,535.50 L551.47,535.50 L551.79,535.50 L552.12,535.50 L552.44,535.50 L552.76,535.50 L553.09,535.50 L553.41,535.50 L553.73,535.50 L554.06,535.50 L554.38,535.50 L554.70,535.50 L555.02,535.50 L555.35,535.50 L555.67,535.50 L555.99,535.50 L556.32,535.50 L556.64,535.50 L556.96,535.50 L557.29,535.50 L557.61,535.50 L557.93,535.50 L558.26,535.50 L558.58,535.50 L558.90,535.50 L559.23,535.50 L559.55,535.50 L559.87,535.50 L560.20,535.50 L560.52,535.50 L560.84,535.50 L561.17,535.50 L561.49,535.50 L561.81,535.50 L562.14,535.50 L562.46,535.50 L562.78,535.50 L563.10,535.50 L563.43,535.50 L563.75,535.50 L564.07,535.50 L564.40,535.50 L564.72,535.50 L565.04,535.50 L565.37,535.50 L565.69,535.50 L566.01,535.50 L566.34,535.50 L566.66,535.50 L566.98,535.50 L567.31,535.50 L567.63,535.50 L567.95,535.50 L568.28,535.50 L568.60,535.50 L568.92,535.50 L569.25,535.50 L569.57,535.50 L569.89,535.50 L570.22,535.50 L570.54,535.50 L570.86,535.50 L571.18,535.50 L571.51,535.50 L571.83,535.50 L572.15,535.50 L572.48,535.50 L572.80,535.50 L573.12,535.50 L573.45,535.50 L573.77,535.50 L574.09,535.50 L574.42,535.50 L574.74,535.50 L575.06,535.50 L575.39,535.50 L575.71,535.50 L576.03,535.50 L576.36,535.50 L576.68,535.50 L577.00,535.50 L577.33,535.50 L577.65,535.50 L577.97,535.50 L578.30,535.50 L578.62,535.50 L578.94,535.50 L579.26,535.50 L579.59,535.50 L579.91,535.50 L580.23,535.50 L580.56,535.50 L580.88,535.50 L581.20,535.50 L581.53,535.50 L581.85,535.50 L582.17,535.50 L582.50,535.50 L582.82,535.50 L583.14,535.50 L583.47,535.50 L583.79,535.50 L584.11,535.50 L584.44,535.50 L584.76,535.50 L585.08,535.50 L585.41,535.50 L585.73,535.50 L586.05,535.50 L586.38,535.50 L586.70,535.50 L587.02,535.50 L587.34,535.50 L587.67,535.50 L587.99,535.50 L588.31,535.50 L588.64,535.50 L588.96,535.50 L589.28,535.50 L589.61,535.50 L589.93,535.50 L590.25,535.50 L590.58,535.50 L590.90,535.50 L591.22,535.50 L591.55,535.50 L591.87,535.50 L592.19,535.50 L592.52,535.50 L592.84,535.50 L593.16,535.50 L593.49,535.50 L593.81,535.50 L594.13,535.50 L594.46,535.50 L594.78,535.50 L595.10,535.50 L595.42,535.50 L595.75,535.50 L596.07,535.50 L596.39,535.50 L596.72,535.50 L597.04,535.50 L597.36,535.50 L597.69,535.50 L598.01,535.50 L598.33,535.50 L598.66,535.50 L598.98,535.50 L599.30,535.50 L599.63,535.50 L599.95,535.50 L600.27,535.50 L600.60,535.50 L600.92,535.50 L601.24,535.50 L601.57,535.50 L601.89,535.50 L602.21,535.50 L602.54,535.50 L602.86,535.50 L603.18,535.50 L603.50,535.50 L603.83,535.50 L604.15,535.50 L604.47,535.50 L604.80,535.50 L605.12,535.50 L605.44,535.50 L605.77,535.50 L606.09,535.50 L606.41,535.50 L606.74,535.50 L607.06,535.50 L607.38,535.50 L607.71,535.50 L608.03,535.50 L608.35,535.50 L608.68,535.50 L609.00,535.50 L609.32,535.50 L609.65,535.50 L609.97,535.50 L610.29,535.50 L610.62,535.50 L610.94,535.50 L611.26,535.50 L611.58,535.50 L611.91,535.50 L612.23,535.50 L612.55,535.50 L612.88,535.50 L613.20,535.50 L613.52,535.50 L613.85,535.50 L614.17,535.50 L614.49,535.50 L614.82,535.50 L615.14,535.50 L615.46,535.50 L615.79,535.50 L616.11,535.50 L616.43,535.50 L616.76,535.50 L617.08,535.50 L617.40,535.50 L617.73,535.50 L618.05,535.50 L618.37,535.50 L618.70,535.50 L619.02,535.50 L619.34,535.50 L619.66,535.50 L619.99,535.50 L620.31,535.50 L620.63,535.50 L620.96,535.50 L621.28,535.50 L621.60,535.50 L621.93,535.50 L622.25,535.50 L622.57,535.50 L622.90,535.50 L623.22,535.50 L623.54,535.50 L623.87,535.50 L624.19,535.50 L624.51,535.50 L624.84,535.50 L625.16,535.50 L625.48,535.50 L625.81,535.50 L626.13,535.50 L626.45,535.50 L626.78,535.50 L627.10,535.50 L627.42,535.50 L627.74,535.50 L628.07,535.50 L628.39,535.50 L628.71,535.50 L629.04,535.50 L629.36,535.50 L629.68,535.50 L630.01,535.50 L630.33,535.50 L630.65,535.50 L630.98,535.50 L631.30,535.50 L631.62,535.50 L631.95,535.50 L632.27,535.50 L632.59,535.50 L632.92,535.50 L633.24,535.50 L633.56,535.50 L633.89,535.50 L634.21,535.50 L634.53,535.50 L634.86,535.50 L635.18,535.50 L635.50,535.50 L635.82,535.50 L636.00,535.50 C636.67,535.54 638.83,535.72 640.00,535.70 C641.17,535.68 642.08,535.62 643.00,535.40 C643.92,535.18 644.75,534.82 645.50,534.40 C646.25,533.98 646.85,533.55 647.50,532.90 C648.15,532.25 648.82,531.38 649.40,530.50 C649.98,529.62 650.53,528.58 651.00,527.60 C651.47,526.62 651.73,526.03 652.20,524.60 C652.67,523.17 653.33,520.85 653.80,519.00 C654.27,517.15 654.62,516.28 655.00,513.50 C655.38,510.72 655.75,506.02 656.10,502.30 C656.45,498.58 656.80,494.92 657.10,491.20 C657.40,487.48 657.60,484.78 657.90,480.00 C658.20,475.22 658.58,467.58 658.90,462.50 C659.22,457.42 659.48,453.18 659.80,449.50 C660.12,445.82 660.47,442.45 660.80,440.40 C661.13,438.35 661.47,437.20 661.80,437.20 C662.13,437.20 662.52,438.35 662.80,440.40 C663.08,442.45 663.22,445.82 663.50,449.50 C663.78,453.18 664.15,457.42 664.50,462.50 C664.85,467.58 665.28,475.22 665.60,480.00 C665.92,484.78 666.13,487.48 666.40,491.20 C666.67,494.92 666.83,498.58 667.20,502.30 C667.57,506.02 668.20,510.63 668.60,513.50 C669.00,516.37 669.22,517.65 669.60,519.50 C669.98,521.35 670.37,522.93 670.90,524.60 C671.43,526.27 672.12,528.20 672.80,529.50 C673.48,530.80 674.13,531.62 675.00,532.40 C675.87,533.18 676.83,533.77 678.00,534.20 C679.17,534.63 680.67,534.82 682.00,535.00 C683.33,535.18 684.67,535.22 686.00,535.30 C687.33,535.38 689.33,535.47 690.00,535.50 L690.12,535.50 L690.45,535.50 L690.77,535.50 L691.09,535.50 L691.42,535.50 L691.74,535.50 L692.06,535.50 L692.38,535.50 L692.71,535.50 L693.03,535.50 L693.35,535.50 L693.68,535.50 L694.00,535.50 L694.32,535.50 L694.65,535.50 L694.97,535.50 L695.29,535.50 L695.62,535.49 L695.94,535.49 L696.26,535.48 L696.59,535.47 L696.91,535.46 L697.23,535.44 L697.56,535.42 L697.88,535.38 L698.20,535.34 L698.53,535.29 L698.85,535.23 L699.17,535.15 L699.50,535.05 L699.82,534.93 L700.14,534.79 L700.46,534.63 L700.79,534.45 L701.11,534.24 L701.43,534.01 L701.76,533.76 L702.08,533.50 L702.40,533.22 L702.73,532.94 L703.05,532.65 L703.37,532.38 L703.70,532.11 L704.02,531.88 L704.34,531.67 L704.67,531.50 L704.99,531.37 L705.31,531.30 L705.64,531.27 L705.96,531.30 L706.28,531.37 L706.61,531.50 L706.93,531.67 L707.25,531.88 L707.58,532.11 L707.90,532.38 L708.22,532.65 L708.54,532.94 L708.87,533.22 L709.19,533.50 L709.51,533.76 L709.84,534.01 L710.16,534.24 L710.48,534.45 L710.81,534.63 L711.13,534.79 L711.45,534.93 L711.78,535.05 L712.10,535.15 L712.42,535.23 L712.75,535.29 L713.07,535.34 L713.39,535.38 L713.72,535.42 L714.04,535.44 L714.36,535.46 L714.69,535.47 L715.01,535.48 L715.33,535.49 L715.66,535.49 L715.98,535.50 L716.30,535.50 L716.62,535.50 L716.95,535.50 L717.27,535.50 L717.59,535.50 L717.92,535.50 L718.24,535.50 L718.56,535.50 L718.89,535.50 L719.21,535.50 L719.53,535.50 L719.86,535.50 L720.18,535.50 L720.50,535.50 L720.83,535.50 L721.15,535.50 L721.47,535.50 L721.80,535.50 L722.12,535.50 L722.44,535.50 L722.77,535.50 L723.09,535.50 L723.41,535.50 L723.74,535.50 L724.06,535.50 L724.38,535.50 L724.70,535.50 L725.03,535.50 L725.35,535.50 L725.67,535.50 L726.00,535.50 L726.32,535.50 L726.64,535.50 L726.97,535.50 L727.29,535.50 L727.61,535.50 L727.94,535.50 L728.26,535.50 L728.58,535.50 L728.91,535.50 L729.23,535.50 L729.55,535.50 L729.88,535.50 L730.20,535.50 L730.52,535.50 L730.85,535.50 L731.17,535.50 L731.49,535.50 L731.82,535.50 L732.14,535.50 L732.46,535.50 L732.78,535.50 L733.11,535.50 L733.43,535.50 L733.75,535.50 L734.08,535.50 L734.40,535.50 L734.72,535.50 L735.05,535.50 L735.37,535.50 L735.69,535.50 L736.02,535.50 L736.34,535.50 L736.66,535.50 L736.99,535.50 L737.31,535.50 L737.63,535.50 L737.96,535.50 L738.28,535.50 L738.60,535.50 L738.93,535.50 L739.25,535.50 L739.57,535.50 L739.90,535.50 L740.22,535.50 L740.54,535.50 L740.86,535.50 L741.19,535.50 L741.51,535.50 L741.83,535.50 L742.16,535.50 L742.48,535.50 L742.80,535.50 L743.13,535.50 L743.45,535.50 L743.77,535.50 L744.10,535.50 L744.42,535.50 L744.74,535.50 L745.07,535.50 L745.39,535.50 L745.71,535.50 L746.04,535.50 L746.36,535.50 L746.68,535.50 L747.01,535.50 L747.33,535.50 L747.65,535.50 L747.98,535.50 L748.30,535.50 L748.62,535.50 L748.94,535.50 L749.27,535.50 L749.59,535.50 L749.91,535.50 L750.24,535.50 L750.56,535.50 L750.88,535.50 L751.21,535.50 L751.53,535.50 L751.85,535.50 L752.18,535.50 L752.50,535.50 L752.82,535.50 L753.15,535.50 L753.47,535.50 L753.79,535.50 L754.12,535.50 L754.44,535.50 L754.76,535.50 L755.09,535.50 L755.41,535.50 L755.73,535.50 L756.06,535.50 L756.38,535.50 L756.70,535.50 L757.02,535.50 L757.35,535.50 L757.67,535.50 L757.99,535.50 L758.32,535.50 L758.64,535.50 L758.96,535.50 L759.29,535.50 L759.61,535.50 L759.93,535.50 L760.26,535.50 L760.58,535.50 L760.90,535.50 L761.23,535.50 L761.55,535.50 L761.87,535.50 L762.20,535.50 L762.52,535.50 L762.84,535.50 L763.17,535.50 L763.49,535.50 L763.81,535.50 L764.14,535.50 L764.46,535.50 L764.78,535.50 L765.10,535.50 L765.43,535.50 L765.75,535.50 L766.07,535.49 L766.40,535.49 L766.72,535.49 L767.04,535.48 L767.37,535.47 L767.69,535.45 L768.01,535.44 L768.34,535.41 L768.66,535.38 L768.98,535.34 L769.31,535.29 L769.63,535.23 L769.95,535.16 L770.28,535.07 L770.60,534.95 L770.92,534.82 L771.25,534.67 L771.57,534.49 L771.89,534.28 L772.22,534.05 L772.54,533.78 L772.86,533.50 L773.18,533.18 L773.51,532.85 L773.83,532.49 L774.15,532.13 L774.48,531.75 L774.80,531.38 L775.12,531.01 L775.45,530.66 L775.77,530.34 L776.09,530.04 L776.42,529.79 L776.74,529.59 L777.06,529.44 L777.39,529.35 L777.71,529.32 L778.03,529.35 L778.36,529.44 L778.68,529.59 L779.00,529.79 L779.33,530.04 L779.65,530.34 L779.97,530.66 L780.30,531.01 L780.62,531.38 L780.94,531.75 L781.26,532.13 L781.59,532.49 L781.91,532.85 L782.23,533.18 L782.56,533.50 L782.88,533.78 L783.20,534.05 L783.53,534.28 L783.85,534.49 L784.17,534.67 L784.50,534.82 L784.82,534.95 L785.14,535.07 L785.47,535.16 L785.79,535.23 L786.11,535.29 L786.44,535.34 L786.76,535.38 L787.08,535.41 L787.41,535.44 L787.73,535.45 L788.05,535.47 L788.38,535.48 L788.70,535.49 L789.02,535.49 L789.34,535.49 L789.67,535.50 L789.99,535.50 L790.31,535.50 L790.64,535.50 L790.96,535.50 L791.28,535.50 L791.61,535.50 L791.93,535.50 L792.25,535.50 L792.58,535.50 L792.90,535.50 L793.22,535.50 L793.55,535.50 L793.87,535.50 L794.19,535.50 L794.52,535.50 L794.84,535.50 L795.16,535.50 L795.49,535.50 L795.81,535.50 L796.13,535.50 L796.46,535.50 L796.78,535.50 L797.10,535.50 L797.42,535.50 L797.75,535.50 L798.07,535.50 L798.39,535.50 L798.72,535.50 L799.04,535.50 L799.36,535.50 L799.69,535.50 L800.01,535.50 L800.33,535.50 L800.66,535.50 L800.98,535.50 L801.30,535.50 L801.63,535.50 L801.95,535.50 L802.27,535.50 L802.60,535.50 L802.92,535.50 L803.24,535.50 L803.57,535.50 L803.89,535.50 L804.21,535.50 L804.54,535.50 L804.86,535.50 L805.18,535.50 L805.50,535.50 L805.83,535.50 L806.15,535.50 L806.47,535.50 L806.80,535.50 L807.12,535.50 L807.44,535.50 L807.77,535.50 L808.09,535.50 L808.41,535.50 L808.74,535.50 L809.06,535.50 L809.38,535.50 L809.71,535.50 L810.03,535.50 L810.35,535.50 L810.68,535.50 L811.00,535.50 L811.32,535.50 L811.65,535.50 L811.97,535.50 L812.29,535.50 L812.62,535.50 L812.94,535.50 L813.26,535.50 L813.58,535.50 L813.91,535.50 L814.23,535.50 L814.55,535.50 L814.88,535.50 L815.20,535.50 L815.52,535.50 L815.85,535.50 L816.00,535.50 C816.83,535.42 819.40,535.12 821.00,535.00 C822.60,534.88 824.40,534.97 825.60,534.80 C826.80,534.63 827.43,534.33 828.20,534.00 C828.97,533.67 829.60,533.27 830.20,532.80 C830.80,532.33 831.33,531.77 831.80,531.20 C832.27,530.63 832.48,530.63 833.00,529.40 C833.52,528.17 834.27,526.28 834.90,523.80 C835.53,521.32 836.07,519.15 836.80,514.50 C837.53,509.85 838.62,502.12 839.30,495.90 C839.98,489.68 840.40,483.42 840.90,477.20 C841.40,470.98 841.92,463.97 842.30,458.60 C842.68,453.23 842.93,449.93 843.20,445.00 C843.47,440.07 843.62,434.92 843.90,429.00 C844.18,423.08 844.65,414.28 844.90,409.50 C845.15,404.72 845.22,402.40 845.40,400.30 C845.58,398.20 845.80,396.90 846.00,396.90 C846.20,396.90 846.42,398.20 846.60,400.30 C846.78,402.40 846.87,404.72 847.10,409.50 C847.33,414.28 847.73,423.92 848.00,429.00 C848.27,434.08 848.48,435.07 848.70,440.00 C848.92,444.93 849.03,452.40 849.30,458.60 C849.57,464.80 849.98,470.98 850.30,477.20 C850.62,483.42 850.78,489.68 851.20,495.90 C851.62,502.12 852.33,509.85 852.80,514.50 C853.27,519.15 853.55,521.38 854.00,523.80 C854.45,526.22 854.97,527.70 855.50,529.00 C856.03,530.30 856.57,530.95 857.20,531.60 C857.83,532.25 858.42,532.58 859.30,532.90 C860.18,533.22 861.55,533.54 862.50,533.50 C863.45,533.46 864.58,532.82 865.00,532.69 L865.30,532.64 L865.62,532.59 L865.94,532.55 L866.27,532.51 L866.59,532.48 L866.91,532.46 L867.24,532.44 L867.56,532.44 L867.88,532.44 L868.21,532.45 L868.53,532.47 L868.85,532.50 L869.18,532.54 L869.50,532.58 L869.82,532.63 L870.14,532.69 L870.47,532.75 L870.79,532.81 L871.11,532.88 L871.44,532.94 L871.76,533.01 L872.08,533.07 L872.41,533.13 L872.73,533.19 L873.05,533.24 L873.38,533.28 L873.70,533.32 L874.02,533.35 L874.35,533.37 L874.67,533.38 L874.99,533.38 L875.32,533.36 L875.64,533.34 L875.96,533.30 L876.29,533.25 L876.61,533.19 L876.93,533.12 L877.26,533.04 L877.58,532.94 L877.90,532.84 L878.22,532.72 L878.55,532.60 L878.87,532.47 L879.19,532.33 L879.52,532.20 L879.84,532.06 L880.16,531.92 L880.49,531.79 L880.81,531.66 L881.13,531.54 L881.46,531.44 L881.78,531.34 L882.10,531.26 L882.43,531.20 L882.75,531.16 L883.07,531.14 L883.40,531.13 L883.72,531.15 L884.04,531.18 L884.37,531.24 L884.69,531.31 L885.01,531.41 L885.34,531.51 L885.66,531.63 L885.98,531.76 L886.30,531.90 L886.63,532.05 L886.95,532.20 L887.27,532.36 L887.60,532.51 L887.92,532.66 L888.24,532.81 L888.57,532.95 L888.89,533.09 L889.21,533.22 L889.54,533.34 L889.86,533.45 L890.18,533.55 L890.51,533.64 L890.83,533.73 L891.15,533.80 L891.48,533.87 L891.80,533.93 L892.12,533.98 L892.45,534.03 L892.77,534.07 L893.09,534.10 L893.42,534.13 L893.74,534.16 L894.06,534.18 L894.38,534.20 L894.71,534.22 L895.03,534.23 L895.35,534.24 L895.68,534.25 L896.00,534.26 L896.32,534.27 L896.65,534.28 L896.97,534.29 L897.29,534.29 L897.62,534.30 L897.94,534.31 L898.26,534.31 L898.59,534.32 L898.91,534.32 L899.23,534.33 L899.56,534.33 L899.88,534.34 L900.20,534.34 L900.53,534.35 L900.85,534.35 L901.17,534.36 L901.50,534.36 L901.82,534.37 L902.14,534.37 L902.46,534.38 L902.79,534.38 L903.11,534.39 L903.43,534.39 L903.76,534.40 L904.08,534.40 L904.40,534.40 L904.73,534.41 L905.05,534.41 L905.37,534.42 L905.70,534.42 L906.02,534.43 L906.34,534.43 L906.67,534.44 L906.99,534.44 L907.31,534.45 L907.64,534.45 L907.96,534.45 L908.28,534.46 L908.61,534.46 L908.93,534.47 L909.25,534.47 L909.58,534.48 L909.90,534.48 L910.22,534.48 L910.54,534.49 L910.87,534.49 L911.19,534.50 L911.51,534.50 L911.84,534.51 L912.16,534.51 L912.48,534.51 L912.81,534.52 L913.13,534.52 L913.45,534.53 L913.78,534.53 L914.10,534.53 L914.42,534.54 L914.75,534.54 L915.07,534.55 L915.39,534.55 L915.72,534.55 L916.04,534.56 L916.36,534.56 L916.69,534.57 L917.01,534.57 L917.33,534.57 L917.66,534.58 L917.98,534.58 L918.30,534.59 L918.62,534.59 L918.95,534.59 L919.27,534.60 L919.59,534.60 L919.92,534.60 L920.24,534.61 L920.56,534.61 L920.89,534.62 L921.21,534.62 L921.53,534.62 L921.86,534.63 L922.18,534.63 L922.50,534.63 L922.83,534.64 L923.15,534.64 L923.47,534.64 L923.80,534.65 L924.12,534.65 L924.44,534.66 L924.77,534.66 L925.09,534.66 L925.41,534.67 L925.74,534.67 L926.06,534.67 L926.38,534.68 L926.70,534.68 L927.03,534.68 L927.35,534.69 L927.67,534.69 L928.00,534.69 L928.32,534.70 L928.64,534.70 L928.97,534.70 L929.29,534.71 L929.61,534.71 L929.94,534.71 L930.26,534.72 L930.58,534.72 L930.91,534.72 L931.23,534.73 L931.55,534.73 L931.88,534.73 L932.20,534.74 L932.52,534.74 L932.85,534.74 L933.17,534.75 L933.49,534.75 L933.82,534.75 L934.14,534.76 L934.46,534.76 L934.78,534.76 L935.11,534.76 L935.43,534.77 L935.75,534.77 L936.08,534.77 L936.40,534.78 L936.72,534.78 L937.05,534.78 L937.37,534.79 L937.69,534.79 L938.02,534.79 L938.34,534.79 L938.66,534.80 L938.99,534.80 L939.31,534.80 L939.63,534.81 L939.96,534.81 L940.28,534.81 L940.60,534.81 L940.93,534.82 L941.25,534.82 L941.57,534.82 L941.90,534.83 L942.22,534.83 L942.54,534.83 L942.86,534.83 L943.19,534.84 L943.51,534.84 L943.83,534.84 L944.16,534.85 L944.48,534.85 L944.80,534.85 L945.13,534.85 L945.45,534.86 L945.77,534.86 L946.10,534.86 L946.42,534.86 L946.74,534.87 L947.07,534.87 L947.39,534.87 L947.71,534.88 L948.04,534.88 L948.36,534.88 L948.68,534.88 L949.01,534.89 L949.33,534.89 L949.65,534.89 L949.98,534.89 L950.30,534.90 L950.62,534.90 L950.94,534.90 L951.27,534.90 L951.59,534.91 L951.91,534.91 L952.24,534.91 L952.56,534.91 L952.88,534.92 L953.21,534.92 L953.53,534.92 L953.85,534.92 L954.18,534.93 L954.50,534.93 L954.82,534.93 L955.15,534.93 L955.47,534.94 L955.79,534.94 L956.12,534.94 L956.44,534.94 L956.76,534.94 L957.09,534.95 L957.41,534.95 L957.73,534.95 L958.06,534.95 L958.38,534.96 L958.70,534.96 L959.02,534.96 L959.35,534.96 L959.67,534.97 L959.99,534.97 L960.32,534.97 L960.64,534.97 L960.96,534.97 L961.29,534.98 L961.61,534.98 L961.93,534.98 L962.26,534.98 L962.58,534.99 L962.90,534.99 L963.23,534.99 L963.55,534.99 L963.87,534.99 L964.20,535.00 L964.52,535.00 L964.84,535.00 L965.17,535.00 L965.49,535.00 L965.81,535.01 L966.14,535.01 L966.46,535.01 L966.78,535.01 L967.10,535.01 L967.43,535.02 L967.75,535.02 L968.07,535.02 L968.40,535.02 L968.72,535.02 L969.04,535.03 L969.37,535.03 L969.69,535.03 L970.01,535.03 L970.34,535.03 L970.66,535.04 L970.98,535.04 L971.31,535.04 L971.63,535.04 L971.95,535.04 L972.28,535.05 L972.60,535.05 L972.92,535.05 L973.25,535.05 L973.57,535.05 L973.89,535.06 L974.22,535.06 L974.54,535.06 L974.86,535.06 L975.18,535.06 L975.51,535.06 L975.83,535.07 L976.15,535.07 L976.48,535.07 L976.80,535.07 L977.12,535.07 L977.45,535.08 L977.77,535.08 L978.09,535.08 L978.42,535.08 L978.74,535.08 L979.06,535.08 L979.39,535.09 L979.71,535.09 L980.03,535.09 L980.36,535.09 L980.68,535.09 L981.00,535.09 L981.33,535.10 L981.65,535.10 L981.97,535.10 L982.30,535.10 L982.62,535.10 L982.94,535.10 L983.26,535.11 L983.59,535.11 L983.91,535.11 L984.23,535.11 L984.56,535.11 L984.88,535.11 L985.20,535.12 L985.53,535.12 L985.85,535.12 L986.17,535.12 L986.50,535.12 L986.82,535.12 L987.14,535.13 L987.47,535.13 L987.79,535.13 L988.11,535.13 L988.44,535.13 L988.76,535.13 L989.08,535.14 L989.41,535.14 L989.73,535.14 L990.05,535.14 L990.38,535.14 L990.70,535.14 L991.02,535.14 L991.34,535.15 L991.67,535.15 L991.99,535.15 L992.31,535.15 L992.64,535.15 L992.96,535.15 L993.28,535.15 L993.61,535.16 L993.93,535.16 L994.25,535.16 L994.58,535.16 L994.90,535.16 L995.22,535.16 L995.55,535.16 L995.87,535.17 L996.19,535.17 L996.52,535.17 L996.84,535.17 L997.16,535.17 L997.49,535.17 L997.81,535.17 L998.13,535.18 L998.46,535.18 L998.78,535.18 L999.10,535.18 L999.42,535.18 L999.75,535.18 L1000.07,535.18 L1000.39,535.19 L1000.72,535.19 L1001.04,535.19 L1001.36,535.19 L1001.69,535.19 L1002.01,535.19 L1002.33,535.19 L1002.66,535.19 L1002.98,535.20" fill="none" stroke="#3c3c3c" stroke-width="3.8" stroke-linejoin="round" stroke-linecap="butt"/>
<path d="M162.66,754.38 L162.98,754.38 L163.31,754.38 L163.63,754.38 L163.95,754.38 L164.28,754.38 L164.60,754.38 L164.92,754.38 L165.25,754.38 L165.57,754.38 L165.89,754.38 L166.22,754.38 L166.54,754.38 L166.86,754.38 L167.18,754.38 L167.51,754.38 L167.83,754.38 L168.15,754.38 L168.48,754.38 L168.80,754.38 L169.12,754.38 L169.45,754.38 L169.77,754.38 L170.09,754.38 L170.42,754.38 L170.74,754.38 L171.06,754.38 L171.39,754.38 L171.71,754.38 L172.03,754.38 L172.36,754.38 L172.68,754.38 L173.00,754.38 L173.33,754.38 L173.65,754.38 L173.97,754.38 L174.30,754.38 L174.62,754.38 L174.94,754.38 L175.26,754.38 L175.59,754.38 L175.91,754.38 L176.23,754.38 L176.56,754.38 L176.88,754.38 L177.20,754.38 L177.53,754.38 L177.85,754.38 L178.17,754.38 L178.50,754.38 L178.82,754.38 L179.14,754.38 L179.47,754.38 L179.79,754.38 L180.11,754.38 L180.44,754.38 L180.76,754.38 L181.08,754.38 L181.41,754.38 L181.73,754.38 L182.05,754.38 L182.38,754.38 L182.70,754.38 L183.02,754.38 L183.34,754.38 L183.67,754.38 L183.99,754.38 L184.31,754.38 L184.64,754.38 L184.96,754.38 L185.28,754.38 L185.61,754.38 L185.93,754.38 L186.25,754.38 L186.58,754.38 L186.90,754.38 L187.22,754.38 L187.55,754.38 L187.87,754.38 L188.19,754.38 L188.52,754.38 L188.84,754.38 L189.16,754.38 L189.49,754.38 L189.81,754.38 L190.13,754.38 L190.46,754.38 L190.78,754.38 L191.10,754.38 L191.42,754.38 L191.75,754.38 L192.07,754.38 L192.39,754.38 L192.72,754.38 L193.04,754.38 L193.36,754.38 L193.69,754.38 L194.01,754.38 L194.33,754.38 L194.66,754.38 L194.98,754.38 L195.30,754.38 L195.63,754.38 L195.95,754.38 L196.27,754.38 L196.60,754.38 L196.92,754.38 L197.24,754.38 L197.57,754.38 L197.89,754.38 L198.21,754.38 L198.54,754.38 L198.86,754.38 L199.18,754.38 L199.50,754.38 L199.83,754.38 L200.15,754.38 L200.47,754.38 L200.80,754.38 L201.12,754.38 L201.44,754.38 L201.77,754.38 L202.09,754.38 L202.41,754.38 L202.74,754.38 L203.06,754.38 L203.38,754.38 L203.71,754.38 L204.03,754.38 L204.35,754.38 L204.68,754.38 L205.00,754.38 L205.32,754.38 L205.65,754.38 L205.97,754.38 L206.29,754.38 L206.62,754.38 L206.94,754.38 L207.26,754.38 L207.58,754.38 L207.91,754.38 L208.23,754.38 L208.55,754.38 L208.88,754.38 L209.20,754.38 L209.52,754.38 L209.85,754.38 L210.17,754.38 L210.49,754.38 L210.82,754.38 L211.14,754.38 L211.46,754.38 L211.79,754.38 L212.11,754.38 L212.43,754.38 L212.76,754.38 L213.08,754.38 L213.40,754.38 L213.73,754.38 L214.05,754.38 L214.37,754.38 L214.70,754.38 L215.02,754.38 L215.34,754.38 L215.66,754.38 L215.99,754.38 L216.31,754.38 L216.63,754.38 L216.96,754.38 L217.28,754.38 L217.60,754.38 L217.93,754.38 L218.25,754.38 L218.57,754.38 L218.90,754.38 L219.22,754.38 L219.54,754.38 L219.87,754.38 L220.19,754.38 L220.51,754.38 L220.84,754.38 L221.16,754.38 L221.48,754.38 L221.81,754.38 L222.13,754.38 L222.45,754.38 L222.78,754.38 L223.10,754.38 L223.42,754.38 L223.74,754.38 L224.07,754.38 L224.39,754.38 L224.71,754.38 L225.04,754.38 L225.36,754.38 L225.68,754.38 L226.01,754.38 L226.33,754.38 L226.65,754.38 L226.98,754.38 L227.30,754.38 L227.62,754.38 L227.95,754.38 L228.27,754.38 L228.59,754.38 L228.92,754.38 L229.24,754.38 L229.56,754.38 L229.89,754.38 L230.21,754.38 L230.53,754.38 L230.86,754.38 L231.18,754.38 L231.50,754.38 L231.82,754.38 L232.15,754.38 L232.47,754.38 L232.79,754.38 L233.12,754.38 L233.44,754.38 L233.76,754.38 L234.09,754.38 L234.41,754.38 L234.73,754.38 L235.06,754.38 L235.38,754.38 L235.70,754.38 L236.03,754.38 L236.35,754.38 L236.67,754.38 L237.00,754.38 L237.32,754.38 L237.64,754.38 L237.97,754.38 L238.29,754.38 L238.61,754.38 L238.94,754.38 L239.26,754.38 L239.58,754.38 L239.90,754.38 L240.23,754.38 L240.55,754.38 L240.87,754.38 L241.20,754.38 L241.52,754.38 L241.84,754.38 L242.17,754.38 L242.49,754.38 L242.81,754.38 L243.14,754.38 L243.46,754.38 L243.78,754.38 L244.11,754.38 L244.43,754.38 L244.75,754.38 L245.08,754.38 L245.40,754.38 L245.72,754.38 L246.05,754.38 L246.37,754.38 L246.69,754.38 L247.02,754.38 L247.34,754.38 L247.66,754.38 L247.98,754.38 L248.31,754.38 L248.63,754.38 L248.95,754.38 L249.28,754.38 L249.60,754.38 L249.92,754.38 L250.25,754.38 L250.57,754.38 L250.89,754.38 L251.22,754.38 L251.54,754.38 L251.86,754.38 L252.19,754.38 L252.51,754.38 L252.83,754.38 L253.16,754.38 L253.48,754.38 L253.80,754.38 L254.13,754.38 L254.45,754.38 L254.77,754.38 L255.10,754.38 L255.42,754.38 L255.74,754.38 L256.06,754.38 L256.39,754.38 L256.71,754.38 L257.03,754.38 L257.36,754.38 L257.68,754.38 L258.00,754.38 L258.33,754.38 L258.65,754.38 L258.97,754.38 L259.30,754.38 L259.62,754.38 L259.94,754.38 L260.27,754.38 L260.59,754.38 L260.91,754.38 L261.24,754.38 L261.56,754.38 L261.88,754.38 L262.21,754.38 L262.53,754.38 L262.85,754.38 L263.18,754.38 L263.50,754.38 L263.82,754.38 L264.14,754.38 L264.47,754.38 L264.79,754.38 L265.11,754.38 L265.44,754.38 L265.76,754.38 L266.08,754.38 L266.41,754.38 L266.73,754.38 L267.05,754.38 L267.38,754.38 L267.70,754.38 L268.02,754.38 L268.35,754.38 L268.67,754.38 L268.99,754.38 L269.32,754.38 L269.64,754.38 L269.96,754.38 L270.29,754.38 L270.61,754.38 L270.93,754.38 L271.26,754.38 L271.58,754.38 L271.90,754.38 L272.22,754.38 L272.55,754.38 L272.87,754.38 L273.19,754.38 L273.52,754.38 L273.84,754.38 L274.16,754.38 L274.49,754.38 L274.81,754.38 L275.13,754.38 L275.46,754.38 L275.78,754.38 L276.10,754.38 L276.43,754.38 L276.75,754.38 L277.07,754.38 L277.40,754.38 L277.72,754.38 L278.04,754.38 L278.37,754.38 L278.69,754.38 L279.01,754.38 L279.34,754.38 L279.66,754.38 L279.98,754.38 L280.30,754.38 L280.63,754.38 L280.95,754.38 L281.27,754.38 L281.60,754.38 L281.92,754.38 L282.24,754.38 L282.57,754.38 L282.89,754.38 L283.21,754.38 L283.54,754.38 L283.86,754.38 L284.18,754.38 L284.51,754.38 L284.83,754.38 L285.15,754.38 L285.48,754.38 L285.80,754.38 L286.12,754.38 L286.45,754.38 L286.77,754.38 L287.09,754.38 L287.42,754.38 L287.74,754.38 L288.06,754.38 L288.38,754.38 L288.71,754.38 L289.03,754.38 L289.35,754.38 L289.68,754.38 L290.00,754.38 L290.32,754.38 L290.65,754.38 L290.97,754.38 L291.29,754.38 L291.62,754.38 L291.94,754.38 L292.26,754.38 L292.59,754.38 L292.91,754.38 L293.23,754.38 L293.56,754.38 L293.88,754.38 L294.20,754.38 L294.53,754.38 L294.85,754.38 L295.17,754.38 L295.50,754.38 L295.82,754.38 L296.14,754.38 L296.46,754.38 L296.79,754.38 L297.11,754.38 L297.43,754.38 L297.76,754.38 L298.08,754.38 L298.40,754.38 L298.73,754.38 L299.05,754.38 L299.37,754.38 L299.70,754.38 L300.02,754.38 L300.34,754.38 L300.67,754.38 L300.99,754.38 L301.31,754.38 L301.64,754.38 L301.96,754.38 L302.28,754.38 L302.61,754.38 L302.93,754.38 L303.25,754.38 L303.58,754.38 L303.90,754.38 L304.22,754.38 L304.54,754.38 L304.87,754.38 L305.19,754.38 L305.51,754.38 L305.84,754.38 L306.16,754.38 L306.48,754.38 L306.81,754.38 L307.13,754.38 L307.45,754.38 L307.78,754.38 L308.10,754.38 L308.42,754.38 L308.75,754.38 L309.07,754.38 L309.39,754.38 L309.72,754.38 L310.04,754.38 L310.36,754.38 L310.69,754.38 L311.01,754.38 L311.33,754.38 L311.66,754.38 L311.98,754.38 L312.30,754.38 L312.62,754.38 L312.95,754.38 L313.27,754.38 L313.59,754.38 L313.92,754.38 L314.24,754.38 L314.56,754.38 L314.89,754.38 L315.21,754.38 L315.53,754.38 L315.86,754.38 L316.18,754.38 L316.50,754.38 L316.83,754.38 L317.15,754.38 L317.47,754.38 L317.80,754.38 L318.12,754.38 L318.44,754.38 L318.77,754.38 L319.09,754.38 L319.41,754.38 L319.74,754.38 L320.06,754.38 L320.38,754.38 L320.70,754.38 L321.03,754.38 L321.35,754.38 L321.67,754.38 L322.00,754.38 L322.32,754.38 L322.64,754.38 L322.97,754.38 L323.29,754.38 L323.61,754.38 L323.94,754.38 L324.26,754.38 L324.58,754.38 L324.91,754.38 L325.23,754.38 L325.55,754.38 L325.88,754.38 L326.20,754.38 L326.52,754.38 L326.85,754.38 L327.17,754.38 L327.49,754.38 L327.82,754.38 L328.14,754.38 L328.46,754.38 L328.78,754.38 L329.11,754.38 L329.43,754.38 L329.75,754.38 L330.08,754.38 L330.40,754.38 L330.72,754.38 L331.05,754.38 L331.37,754.38 L331.69,754.38 L332.02,754.38 L332.34,754.38 L332.66,754.38 L332.99,754.38 L333.31,754.38 L333.63,754.38 L333.96,754.38 L334.28,754.38 L334.60,754.38 L334.93,754.38 L335.25,754.38 L335.57,754.38 L335.90,754.38 L336.22,754.38 L336.54,754.38 L336.86,754.38 L337.19,754.38 L337.51,754.38 L337.83,754.38 L338.16,754.38 L338.48,754.38 L338.80,754.38 L339.13,754.38 L339.45,754.38 L339.77,754.38 L340.10,754.38 L340.42,754.38 L340.74,754.38 L341.07,754.38 L341.39,754.38 L341.71,754.38 L342.04,754.38 L342.36,754.38 L342.68,754.38 L343.01,754.38 L343.33,754.38 L343.65,754.38 L343.98,754.38 L344.30,754.38 L344.62,754.38 L344.94,754.38 L345.27,754.38 L345.59,754.38 L345.91,754.38 L346.24,754.38 L346.56,754.38 L346.88,754.38 L347.21,754.38 L347.53,754.38 L347.85,754.38 L348.18,754.38 L348.50,754.38 L348.82,754.38 L349.15,754.38 L349.47,754.38 L349.79,754.38 L350.12,754.38 L350.44,754.38 L350.76,754.38 L351.09,754.38 L351.41,754.38 L351.73,754.38 L352.06,754.38 L352.38,754.38 L352.70,754.38 L353.02,754.38 L353.35,754.38 L353.67,754.38 L353.99,754.38 L354.32,754.38 L354.64,754.38 L354.96,754.38 L355.29,754.38 L355.61,754.38 L355.93,754.38 L356.26,754.38 L356.58,754.38 L356.90,754.38 L357.23,754.38 L357.55,754.38 L357.87,754.38 L358.20,754.38 L358.52,754.38 L358.84,754.38 L359.17,754.38 L359.49,754.38 L359.81,754.38 L360.14,754.38 L360.46,754.38 L360.78,754.38 L361.10,754.38 L361.43,754.38 L361.75,754.38 L362.07,754.38 L362.40,754.38 L362.72,754.38 L363.04,754.38 L363.37,754.38 L363.69,754.38 L364.01,754.38 L364.34,754.38 L364.66,754.38 L364.98,754.38 L365.31,754.38 L365.63,754.38 L365.95,754.38 L366.28,754.38 L366.60,754.38 L366.92,754.38 L367.25,754.38 L367.57,754.38 L367.89,754.38 L368.22,754.38 L368.54,754.38 L368.86,754.38 L369.18,754.38 L369.51,754.38 L369.83,754.38 L370.15,754.38 L370.48,754.38 L370.80,754.38 L371.12,754.38 L371.45,754.38 L371.77,754.38 L372.09,754.38 L372.42,754.38 L372.74,754.38 L373.06,754.38 L373.39,754.38 L373.71,754.38 L374.03,754.38 L374.36,754.38 L374.68,754.38 L375.00,754.38 L375.33,754.38 L375.65,754.38 L375.97,754.38 L376.30,754.38 L376.62,754.38 L376.94,754.38 L377.26,754.38 L377.59,754.38 L377.91,754.38 L378.23,754.38 L378.56,754.38 L378.88,754.38 L379.20,754.38 L379.53,754.38 L379.85,754.38 L380.17,754.38 L380.50,754.38 L380.82,754.38 L381.14,754.38 L381.47,754.38 L381.79,754.38 L382.11,754.38 L382.44,754.38 L382.76,754.38 L383.08,754.38 L383.41,754.38 L383.73,754.38 L384.05,754.38 L384.38,754.38 L384.70,754.38 L385.02,754.38 L385.34,754.38 L385.67,754.38 L385.99,754.38 L386.31,754.38 L386.64,754.38 L386.96,754.38 L387.28,754.38 L387.61,754.38 L387.93,754.38 L388.25,754.38 L388.58,754.38 L388.90,754.38 L389.22,754.38 L389.55,754.38 L389.87,754.38 L390.19,754.38 L390.52,754.38 L390.84,754.38 L391.16,754.38 L391.49,754.38 L391.81,754.38 L392.13,754.38 L392.46,754.38 L392.78,754.38 L393.10,754.38 L393.42,754.38 L393.75,754.38 L394.07,754.38 L394.39,754.38 L394.72,754.38 L395.04,754.38 L395.36,754.38 L395.69,754.38 L396.01,754.38 L396.33,754.38 L396.66,754.38 L396.98,754.38 L397.30,754.38 L397.63,754.38 L397.95,754.38 L398.27,754.38 L398.60,754.38 L398.92,754.38 L399.24,754.38 L399.57,754.38 L399.89,754.38 L400.21,754.38 L400.54,754.38 L400.86,754.38 L401.18,754.38 L401.50,754.38 L401.83,754.38 L402.15,754.38 L402.47,754.38 L402.80,754.38 L403.12,754.38 L403.44,754.38 L403.77,754.38 L404.09,754.38 L404.41,754.38 L404.74,754.38 L405.06,754.38 L405.38,754.38 L405.71,754.38 L406.03,754.38 L406.35,754.38 L406.68,754.38 L407.00,754.38 L407.32,754.38 L407.65,754.38 L407.97,754.38 L408.29,754.38 L408.62,754.38 L408.94,754.38 L409.26,754.38 L409.58,754.38 L409.91,754.38 L410.23,754.38 L410.55,754.38 L410.88,754.38 L411.20,754.38 L411.52,754.38 L411.85,754.38 L412.17,754.38 L412.49,754.38 L412.82,754.38 L413.14,754.38 L413.46,754.38 L413.79,754.38 L414.11,754.38 L414.43,754.38 L414.76,754.38 L415.08,754.38 L415.40,754.38 L415.73,754.38 L416.05,754.38 L416.37,754.38 L416.70,754.38 L417.02,754.38 L417.34,754.38 L417.66,754.38 L417.99,754.38 L418.31,754.38 L418.63,754.38 L418.96,754.38 L419.28,754.38 L419.60,754.38 L419.93,754.38 L420.25,754.38 L420.57,754.38 L420.90,754.38 L421.22,754.38 L421.54,754.38 L421.87,754.38 L422.19,754.38 L422.51,754.38 L422.84,754.38 L423.16,754.38 L423.48,754.38 L423.81,754.38 L424.13,754.38 L424.45,754.38 L424.78,754.38 L425.10,754.38 L425.42,754.38 L425.74,754.38 L426.07,754.38 L426.39,754.38 L426.71,754.38 L427.04,754.38 L427.36,754.38 L427.68,754.38 L428.01,754.38 L428.33,754.38 L428.65,754.38 L428.98,754.38 L429.30,754.38 L429.62,754.38 L429.95,754.38 L430.27,754.38 L430.59,754.38 L430.92,754.38 L431.24,754.38 L431.56,754.38 L431.89,754.38 L432.21,754.38 L432.53,754.38 L432.86,754.38 L433.18,754.38 L433.50,754.38 L433.82,754.38 L434.15,754.37 L434.47,754.37 L434.79,754.37 L435.12,754.37 L435.44,754.37 L435.76,754.37 L436.09,754.37 L436.41,754.37 L436.73,754.37 L437.06,754.37 L437.38,754.37 L437.70,754.37 L438.03,754.36 L438.35,754.36 L438.67,754.36 L439.00,754.35 L439.32,754.35 L439.64,754.34 L439.97,754.34 L440.29,754.33 L440.61,754.32 L440.94,754.32 L441.26,754.30 L441.58,754.29 L441.90,754.28 L442.23,754.26 L442.55,754.25 L442.87,754.23 L443.20,754.21 L443.52,754.18 L443.84,754.15 L444.17,754.12 L444.49,754.09 L444.81,754.05 L445.14,754.01 L445.46,753.97 L445.78,753.92 L446.11,753.87 L446.43,753.81 L446.75,753.75 L447.08,753.68 L447.40,753.61 L447.72,753.53 L448.05,753.45 L448.37,753.37 L448.69,753.28 L449.02,753.19 L449.34,753.09 L449.66,752.99 L449.98,752.88 L450.31,752.77 L450.63,752.66 L450.95,752.55 L451.28,752.44 L451.60,752.33 L451.92,752.21 L452.25,752.10 L452.57,751.99 L452.89,751.88 L453.22,751.77 L453.54,751.67 L453.86,751.57 L454.19,751.48 L454.51,751.39 L454.83,751.31 L455.16,751.24 L455.48,751.18 L455.80,751.12 L456.13,751.08 L456.45,751.04 L456.77,751.02 L457.10,751.00 L457.42,751.00 L457.74,750.99 L458.06,750.99 L458.39,750.99 L458.71,751.00 L459.03,751.00 L459.36,751.01 L459.68,751.02 L460.00,751.03 L460.33,751.05 L460.65,751.06 L460.97,751.08 L461.30,751.10 L461.62,751.12 L461.94,751.15 L462.27,751.18 L462.59,751.20 L462.91,751.23 L463.24,751.26 L463.56,751.30 L463.88,751.33 L464.21,751.37 L464.53,751.40 L464.85,751.44 L465.18,751.48 L465.50,751.52 L465.82,751.56 L466.14,751.61 L466.47,751.65 L466.79,751.70 L467.11,751.74 L467.44,751.79 L467.76,751.84 L468.08,751.88 L468.41,751.93 L468.73,751.98 L469.05,752.03 L469.38,752.08 L469.70,752.13 L470.02,752.18 L470.35,752.23 L470.67,752.28 L470.99,752.33 L471.32,752.38 L471.64,752.42 L471.96,752.47 L472.29,752.52 L472.61,752.57 L472.93,752.62 L473.26,752.67 L473.58,752.71 L473.90,752.76 L474.22,752.81 L474.55,752.85 L474.87,752.90 L475.19,752.94 L475.52,752.98 L475.84,753.03 L476.16,753.07 L476.49,753.11 L476.81,753.15 L477.13,753.19 L477.46,753.23 L477.78,753.26 L478.10,753.30 L478.43,753.33 L478.75,753.37 L479.07,753.40 L479.40,753.44 L479.72,753.47 L480.04,753.50 L480.37,753.53 L480.69,753.56 L481.01,753.59 L481.34,753.61 L481.66,753.64 L481.98,753.66 L482.30,753.69 L482.63,753.71 L482.95,753.73 L483.27,753.76 L483.60,753.78 L483.92,753.80 L484.24,753.82 L484.57,753.83 L484.89,753.85 L485.21,753.87 L485.54,753.89 L485.86,753.90 L486.18,753.92 L486.51,753.93 L486.83,753.94 L487.15,753.96 L487.48,753.97 L487.80,753.98 L488.12,753.99 L488.45,754.00 L488.77,754.01 L489.09,754.02 L489.42,754.03 L489.74,754.04 L490.06,754.05 L490.38,754.05 L490.71,754.06 L491.03,754.07 L491.35,754.07 L491.68,754.08 L492.00,754.08 L492.32,754.09 L492.65,754.09 L492.97,754.10 L493.29,754.10 L493.62,754.11 L493.94,754.11 L494.26,754.11 L494.59,754.12 L494.91,754.12 L495.23,754.12 L495.56,754.12 L495.88,754.13 L496.20,754.13 L496.53,754.13 L496.85,754.13 L497.17,754.13 L497.50,754.14 L497.82,754.14 L498.14,754.14 L498.46,754.14 L498.79,754.14 L499.11,754.14 L499.43,754.14 L499.76,754.14 L500.08,754.14 L500.40,754.15 L500.73,754.15 L501.05,754.15 L501.37,754.15 L501.70,754.15 L502.02,754.15 L502.34,754.15 L502.67,754.15 L502.99,754.15 L503.31,754.15 L503.64,754.15 L503.96,754.15 L504.28,754.15 L504.61,754.15 L504.93,754.15 L505.25,754.15 L505.58,754.15 L505.90,754.15 L506.22,754.15 L506.54,754.15 L506.87,754.15 L507.19,754.15 L507.51,754.15 L507.84,754.15 L508.16,754.15 L508.48,754.15 L508.81,754.15 L509.13,754.15 L509.45,754.15 L509.78,754.15 L510.10,754.15 L510.42,754.15 L510.75,754.15 L511.07,754.15 L511.39,754.15 L511.72,754.14 L512.04,754.14 L512.36,754.14 L512.69,754.14 L513.01,754.14 L513.33,754.14 L513.66,754.14 L513.98,754.14 L514.30,754.14 L514.62,754.14 L514.95,754.14 L515.27,754.14 L515.59,754.14 L515.92,754.14 L516.24,754.14 L516.56,754.14 L516.89,754.14 L517.21,754.14 L517.53,754.14 L517.86,754.14 L518.18,754.14 L518.50,754.14 L518.83,754.14 L519.15,754.14 L519.47,754.14 L519.80,754.14 L520.12,754.14 L520.44,754.14 L520.77,754.14 L521.09,754.14 L521.41,754.14 L521.74,754.14 L522.06,754.14 L522.38,754.14 L522.70,754.14 L523.03,754.14 L523.35,754.14 L523.67,754.14 L524.00,754.14 L524.32,754.14 L524.64,754.14 L524.97,754.14 L525.29,754.14 L525.61,754.14 L525.94,754.14 L526.26,754.14 L526.58,754.14 L526.91,754.14 L527.23,754.14 L527.55,754.14 L527.88,754.14 L528.20,754.14 L528.52,754.14 L528.85,754.14 L529.17,754.14 L529.49,754.14 L529.82,754.14 L530.14,754.14 L530.46,754.14 L530.78,754.14 L531.11,754.14 L531.43,754.14 L531.75,754.14 L532.08,754.14 L532.40,754.14 L532.72,754.14 L533.05,754.14 L533.37,754.14 L533.69,754.14 L534.02,754.14 L534.34,754.13 L534.66,754.13 L534.99,754.13 L535.31,754.13 L535.63,754.13 L535.96,754.13 L536.28,754.13 L536.60,754.13 L536.93,754.13 L537.25,754.13 L537.57,754.13 L537.90,754.13 L538.22,754.13 L538.54,754.13 L538.86,754.13 L539.19,754.13 L539.51,754.13 L539.83,754.13 L540.16,754.13 L540.48,754.13 L540.80,754.13 L541.13,754.13 L541.45,754.13 L541.77,754.13 L542.10,754.13 L542.42,754.13 L542.74,754.13 L543.07,754.13 L543.39,754.13 L543.71,754.13 L544.04,754.13 L544.36,754.13 L544.68,754.13 L545.01,754.13 L545.33,754.13 L545.65,754.13 L545.98,754.13 L546.30,754.13 L546.62,754.13 L546.94,754.13 L547.27,754.13 L547.59,754.13 L547.91,754.13 L548.24,754.13 L548.56,754.13 L548.88,754.13 L549.21,754.13 L549.53,754.13 L549.85,754.13 L550.18,754.13 L550.50,754.13 L550.82,754.13 L551.15,754.13 L551.47,754.13 L551.79,754.13 L552.12,754.13 L552.44,754.13 L552.76,754.13 L553.09,754.13 L553.41,754.13 L553.73,754.13 L554.06,754.13 L554.38,754.13 L554.70,754.13 L555.02,754.13 L555.35,754.13 L555.67,754.13 L555.99,754.13 L556.32,754.13 L556.64,754.13 L556.96,754.13 L557.29,754.13 L557.61,754.13 L557.93,754.13 L558.26,754.13 L558.58,754.13 L558.90,754.13 L559.23,754.13 L559.55,754.13 L559.87,754.13 L560.20,754.13 L560.52,754.13 L560.84,754.13 L561.17,754.13 L561.49,754.13 L561.81,754.13 L562.14,754.13 L562.46,754.13 L562.78,754.13 L563.10,754.13 L563.43,754.13 L563.75,754.13 L564.07,754.13 L564.40,754.13 L564.72,754.13 L565.04,754.13 L565.37,754.13 L565.69,754.13 L566.01,754.13 L566.34,754.13 L566.66,754.13 L566.98,754.13 L567.31,754.13 L567.63,754.13 L567.95,754.13 L568.28,754.13 L568.60,754.13 L568.92,754.13 L569.25,754.13 L569.57,754.13 L569.89,754.13 L570.22,754.13 L570.54,754.13 L570.86,754.13 L571.18,754.13 L571.51,754.13 L571.83,754.13 L572.15,754.13 L572.48,754.13 L572.80,754.13 L573.12,754.13 L573.45,754.13 L573.77,754.13 L574.09,754.13 L574.42,754.13 L574.74,754.13 L575.06,754.13 L575.39,754.13 L575.71,754.13 L576.03,754.13 L576.36,754.13 L576.68,754.13 L577.00,754.13 L577.33,754.13 L577.65,754.13 L577.97,754.13 L578.30,754.13 L578.62,754.13 L578.94,754.13 L579.26,754.13 L579.59,754.13 L579.91,754.13 L580.23,754.13 L580.56,754.13 L580.88,754.13 L581.20,754.13 L581.53,754.13 L581.85,754.13 L582.17,754.13 L582.50,754.13 L582.82,754.13 L583.14,754.13 L583.47,754.13 L583.79,754.13 L584.11,754.13 L584.44,754.13 L584.76,754.13 L585.08,754.13 L585.41,754.13 L585.73,754.13 L586.05,754.13 L586.38,754.13 L586.70,754.13 L587.02,754.13 L587.34,754.13 L587.67,754.13 L587.99,754.13 L588.31,754.13 L588.64,754.13 L588.96,754.13 L589.28,754.13 L589.61,754.13 L589.93,754.13 L590.25,754.13 L590.58,754.13 L590.90,754.13 L591.22,754.13 L591.55,754.13 L591.87,754.13 L592.19,754.13 L592.52,754.13 L592.84,754.13 L593.16,754.13 L593.49,754.13 L593.81,754.13 L594.13,754.13 L594.46,754.13 L594.78,754.13 L595.10,754.13 L595.42,754.13 L595.75,754.13 L596.07,754.13 L596.39,754.13 L596.72,754.13 L597.04,754.13 L597.36,754.13 L597.69,754.13 L598.01,754.13 L598.33,754.13 L598.66,754.13 L598.98,754.13 L599.30,754.13 L599.63,754.13 L599.95,754.13 L600.27,754.13 L600.60,754.13 L600.92,754.13 L601.24,754.13 L601.57,754.13 L601.89,754.13 L602.21,754.13 L602.54,754.13 L602.86,754.13 L603.18,754.13 L603.50,754.13 L603.83,754.13 L604.15,754.13 L604.47,754.13 L604.80,754.13 L605.12,754.13 L605.44,754.13 L605.77,754.13 L606.09,754.13 L606.41,754.13 L606.74,754.13 L607.06,754.13 L607.38,754.13 L607.71,754.13 L608.03,754.13 L608.35,754.13 L608.68,754.13 L609.00,754.13 L609.32,754.13 L609.65,754.13 L609.97,754.13 L610.29,754.13 L610.62,754.13 L610.94,754.13 L611.26,754.13 L611.58,754.13 L611.91,754.13 L612.23,754.13 L612.55,754.13 L612.88,754.13 L613.20,754.13 L613.52,754.13 L613.85,754.13 L614.17,754.13 L614.49,754.13 L614.82,754.13 L615.14,754.13 L615.46,754.13 L615.79,754.13 L616.11,754.13 L616.43,754.13 L616.76,754.13 L617.08,754.13 L617.40,754.13 L617.73,754.13 L618.05,754.13 L618.37,754.13 L618.70,754.13 L619.02,754.13 L619.34,754.13 L619.66,754.13 L619.99,754.13 L620.31,754.13 L620.63,754.13 L620.96,754.13 L621.28,754.13 L621.60,754.13 L621.93,754.13 L622.25,754.13 L622.57,754.13 L622.90,754.13 L623.22,754.13 L623.54,754.13 L623.87,754.13 L624.19,754.13 L624.51,754.13 L624.84,754.13 L625.16,754.13 L625.48,754.13 L625.81,754.13 L626.13,754.13 L626.45,754.13 L626.78,754.13 L627.10,754.13 L627.42,754.13 L627.74,754.13 L628.07,754.13 L628.39,754.13 L628.71,754.13 L629.04,754.13 L629.36,754.13 L629.68,754.13 L630.01,754.13 L630.33,754.13 L630.65,754.13 L630.98,754.13 L631.30,754.13 L631.62,754.13 L631.95,754.13 L632.27,754.13 L632.59,754.13 L632.92,754.13 L633.24,754.13 L633.56,754.13 L633.89,754.13 L634.21,754.13 L634.53,754.13 L634.86,754.13 L635.18,754.13 L635.50,754.13 L635.82,754.13 L636.15,754.13 L636.47,754.13 L636.79,754.13 L637.12,754.13 L637.44,754.13 L637.76,754.13 L638.09,754.13 L638.41,754.13 L638.73,754.13 L639.06,754.13 L639.38,754.13 L639.70,754.13 L640.03,754.13 L640.35,754.13 L640.67,754.13 L641.00,754.13 L641.32,754.13 L641.64,754.13 L641.97,754.13 L642.29,754.13 L642.61,754.13 L642.94,754.13 L643.26,754.13 L643.58,754.13 L643.90,754.13 L644.23,754.13 L644.55,754.13 L644.87,754.13 L645.20,754.13 L645.52,754.13 L645.84,754.13 L646.17,754.13 L646.49,754.13 L646.81,754.13 L647.14,754.13 L647.46,754.13 L647.78,754.13 L648.11,754.13 L648.43,754.13 L648.75,754.13 L649.08,754.13 L649.40,754.13 L649.72,754.13 L650.05,754.13 L650.37,754.13 L650.69,754.13 L651.02,754.13 L651.34,754.13 L651.66,754.13 L651.98,754.13 L652.31,754.13 L652.63,754.13 L652.95,754.13 L653.28,754.13 L653.60,754.13 L653.92,754.13 L654.25,754.13 L654.57,754.13 L654.89,754.13 L655.22,754.13 L655.54,754.13 L655.86,754.13 L656.19,754.13 L656.51,754.13 L656.83,754.13 L657.16,754.13 L657.48,754.13 L657.80,754.13 L658.13,754.13 L658.45,754.13 L658.77,754.13 L659.10,754.13 L659.42,754.13 L659.74,754.13 L660.06,754.13 L660.39,754.13 L660.71,754.13 L661.03,754.13 L661.36,754.13 L661.68,754.13 L662.00,754.13 L662.33,754.13 L662.65,754.13 L662.97,754.13 L663.30,754.13 L663.62,754.13 L663.94,754.13 L664.27,754.13 L664.59,754.13 L664.91,754.13 L665.24,754.13 L665.56,754.13 L665.88,754.13 L666.21,754.13 L666.53,754.13 L666.85,754.13 L667.18,754.13 L667.50,754.13 L667.82,754.13 L668.14,754.13 L668.47,754.13 L668.79,754.13 L669.11,754.13 L669.44,754.13 L669.76,754.13 L670.08,754.13 L670.41,754.13 L670.73,754.13 L671.05,754.13 L671.38,754.13 L671.70,754.13 L672.02,754.13 L672.35,754.13 L672.67,754.13 L672.99,754.13 L673.32,754.13 L673.64,754.13 L673.96,754.13 L674.29,754.13 L674.61,754.13 L674.93,754.13 L675.26,754.13 L675.58,754.13 L675.90,754.13 L676.22,754.13 L676.55,754.13 L676.87,754.13 L677.19,754.13 L677.52,754.13 L677.84,754.13 L678.16,754.13 L678.49,754.13 L678.81,754.13 L679.13,754.13 L679.46,754.13 L679.78,754.13 L680.10,754.13 L680.43,754.13 L680.75,754.13 L681.07,754.13 L681.40,754.13 L681.72,754.13 L682.04,754.13 L682.37,754.13 L682.69,754.13 L683.01,754.13 L683.34,754.13 L683.66,754.13 L683.98,754.13 L684.30,754.13 L684.63,754.13 L684.95,754.13 L685.27,754.13 L685.60,754.13 L685.92,754.13 L686.24,754.13 L686.57,754.13 L686.89,754.13 L687.21,754.13 L687.54,754.13 L687.86,754.13 L688.18,754.13 L688.51,754.13 L688.83,754.13 L689.15,754.13 L689.48,754.13 L689.80,754.13 L690.12,754.13 L690.45,754.13 L690.77,754.13 L691.09,754.13 L691.42,754.13 L691.74,754.13 L692.06,754.13 L692.38,754.13 L692.71,754.13 L693.03,754.13 L693.35,754.13 L693.68,754.13 L694.00,754.13 L694.32,754.13 L694.65,754.13 L694.97,754.12 L695.29,754.12 L695.62,754.12 L695.94,754.11 L696.26,754.10 L696.59,754.09 L696.91,754.07 L697.23,754.04 L697.56,754.01 L697.88,753.96 L698.20,753.90 L698.53,753.82 L698.85,753.73 L699.17,753.61 L699.50,753.47 L699.82,753.30 L700.14,753.10 L700.46,752.88 L700.79,752.64 L701.11,752.37 L701.43,752.09 L701.76,751.80 L702.08,751.51 L702.40,751.23 L702.73,750.97 L703.05,750.74 L703.37,750.55 L703.70,750.41 L704.02,750.32 L704.34,750.29 L704.67,750.32 L704.99,750.41 L705.31,750.55 L705.64,750.74 L705.96,750.97 L706.28,751.23 L706.61,751.51 L706.93,751.80 L707.25,752.09 L707.58,752.37 L707.90,752.64 L708.22,752.88 L708.54,753.10 L708.87,753.30 L709.19,753.47 L709.51,753.61 L709.84,753.73 L710.16,753.82 L710.48,753.90 L710.81,753.96 L711.13,754.01 L711.45,754.04 L711.78,754.07 L712.10,754.09 L712.42,754.10 L712.75,754.11 L713.07,754.12 L713.39,754.12 L713.72,754.12 L714.04,754.13 L714.36,754.13 L714.69,754.13 L715.01,754.13 L715.33,754.13 L715.66,754.13 L715.98,754.13 L716.30,754.13 L716.62,754.13 L716.95,754.13 L717.27,754.13 L717.59,754.13 L717.92,754.13 L718.24,754.13 L718.56,754.13 L718.89,754.13 L719.21,754.13 L719.53,754.13 L719.86,754.13 L720.18,754.13 L720.50,754.13 L720.83,754.13 L721.15,754.13 L721.47,754.13 L721.80,754.13 L722.12,754.13 L722.44,754.13 L722.77,754.13 L723.09,754.13 L723.41,754.13 L723.74,754.13 L724.06,754.13 L724.38,754.13 L724.70,754.13 L725.03,754.13 L725.35,754.13 L725.67,754.13 L726.00,754.13 L726.32,754.13 L726.64,754.13 L726.97,754.13 L727.29,754.13 L727.61,754.13 L727.94,754.13 L728.26,754.13 L728.58,754.13 L728.91,754.13 L729.23,754.13 L729.55,754.13 L729.88,754.13 L730.20,754.13 L730.52,754.13 L730.85,754.13 L731.17,754.13 L731.49,754.13 L731.82,754.13 L732.14,754.13 L732.46,754.13 L732.78,754.13 L733.11,754.13 L733.43,754.13 L733.75,754.13 L734.08,754.13 L734.40,754.13 L734.72,754.13 L735.05,754.13 L735.37,754.13 L735.69,754.13 L736.02,754.13 L736.34,754.13 L736.66,754.13 L736.99,754.13 L737.31,754.13 L737.63,754.13 L737.96,754.13 L738.28,754.13 L738.60,754.13 L738.93,754.13 L739.25,754.13 L739.57,754.13 L739.90,754.13 L740.22,754.13 L740.54,754.13 L740.86,754.13 L741.19,754.13 L741.51,754.13 L741.83,754.13 L742.16,754.13 L742.48,754.13 L742.80,754.13 L743.13,754.13 L743.45,754.13 L743.77,754.13 L744.10,754.13 L744.42,754.13 L744.74,754.13 L745.07,754.13 L745.39,754.13 L745.71,754.13 L746.04,754.13 L746.36,754.13 L746.68,754.13 L747.01,754.13 L747.33,754.13 L747.65,754.13 L747.98,754.13 L748.30,754.13 L748.62,754.13 L748.94,754.13 L749.27,754.13 L749.59,754.13 L749.91,754.13 L750.24,754.13 L750.56,754.13 L750.88,754.13 L751.21,754.13 L751.53,754.13 L751.85,754.13 L752.18,754.13 L752.50,754.13 L752.82,754.13 L753.15,754.13 L753.47,754.13 L753.79,754.13 L754.12,754.13 L754.44,754.13 L754.76,754.13 L755.09,754.13 L755.41,754.13 L755.73,754.13 L756.06,754.13 L756.38,754.13 L756.70,754.13 L757.02,754.13 L757.35,754.13 L757.67,754.13 L757.99,754.13 L758.32,754.13 L758.64,754.13 L758.96,754.13 L759.29,754.13 L759.61,754.13 L759.93,754.13 L760.26,754.13 L760.58,754.13 L760.90,754.13 L761.23,754.13 L761.55,754.13 L761.87,754.13 L762.20,754.13 L762.52,754.13 L762.84,754.13 L763.17,754.13 L763.49,754.13 L763.81,754.13 L764.14,754.13 L764.46,754.13 L764.78,754.13 L765.10,754.13 L765.43,754.13 L765.75,754.13 L766.07,754.13 L766.40,754.13 L766.72,754.13 L767.04,754.13 L767.37,754.13 L767.69,754.13 L768.01,754.13 L768.34,754.13 L768.66,754.13 L768.98,754.13 L769.31,754.13 L769.63,754.13 L769.95,754.13 L770.28,754.13 L770.60,754.13 L770.92,754.13 L771.25,754.13 L771.57,754.13 L771.89,754.13 L772.22,754.13 L772.54,754.13 L772.86,754.13 L773.18,754.13 L773.51,754.13 L773.83,754.13 L774.15,754.13 L774.48,754.13 L774.80,754.13 L775.12,754.13 L775.45,754.13 L775.77,754.13 L776.09,754.13 L776.42,754.13 L776.74,754.13 L777.06,754.13 L777.39,754.13 L777.71,754.13 L778.03,754.13 L778.36,754.13 L778.68,754.13 L779.00,754.13 L779.33,754.13 L779.65,754.13 L779.97,754.13 L780.30,754.13 L780.62,754.13 L780.94,754.13 L781.26,754.13 L781.59,754.13 L781.91,754.13 L782.23,754.13 L782.56,754.13 L782.88,754.13 L783.20,754.13 L783.53,754.13 L783.85,754.13 L784.17,754.13 L784.50,754.13 L784.82,754.13 L785.14,754.13 L785.47,754.13 L785.79,754.13 L786.11,754.13 L786.44,754.13 L786.76,754.13 L787.08,754.13 L787.41,754.13 L787.73,754.13 L788.05,754.13 L788.38,754.13 L788.70,754.13 L789.02,754.13 L789.34,754.13 L789.67,754.13 L789.99,754.13 L790.31,754.13 L790.64,754.13 L790.96,754.13 L791.28,754.13 L791.61,754.13 L791.93,754.13 L792.25,754.13 L792.58,754.13 L792.90,754.13 L793.22,754.13 L793.55,754.13 L793.87,754.13 L794.19,754.13 L794.52,754.13 L794.84,754.13 L795.16,754.13 L795.49,754.13 L795.81,754.13 L796.13,754.13 L796.46,754.13 L796.78,754.13 L797.10,754.13 L797.42,754.13 L797.75,754.13 L798.07,754.13 L798.39,754.13 L798.72,754.13 L799.04,754.13 L799.36,754.13 L799.69,754.13 L800.01,754.13 L800.33,754.13 L800.66,754.13 L800.98,754.13 L801.30,754.13 L801.63,754.13 L801.95,754.13 L802.27,754.13 L802.60,754.13 L802.92,754.13 L803.24,754.13 L803.57,754.13 L803.89,754.13 L804.21,754.13 L804.54,754.13 L804.86,754.13 L805.18,754.13 L805.50,754.13 L805.83,754.13 L806.15,754.13 L806.47,754.13 L806.80,754.13 L807.12,754.13 L807.44,754.13 L807.77,754.13 L808.09,754.13 L808.41,754.13 L808.74,754.13 L809.06,754.13 L809.38,754.13 L809.71,754.13 L810.03,754.13 L810.35,754.13 L810.68,754.13 L811.00,754.13 L811.32,754.13 L811.65,754.13 L811.97,754.13 L812.00,754.13 C813.00,753.99 816.00,753.49 818.00,753.30 C820.00,753.11 822.33,753.12 824.00,753.00 C825.67,752.88 826.90,752.83 828.00,752.60 C829.10,752.37 829.95,751.98 830.60,751.60 C831.25,751.22 831.47,751.15 831.90,750.30 C832.33,749.45 832.82,747.93 833.20,746.50 C833.58,745.07 833.85,743.28 834.20,741.70 C834.55,740.12 834.97,738.57 835.30,737.00 C835.63,735.43 835.78,737.32 836.20,732.30 C836.62,727.28 837.25,714.85 837.80,706.90 C838.35,698.95 838.98,692.03 839.50,684.60 C840.02,677.17 840.43,669.73 840.90,662.30 C841.37,654.87 841.87,648.72 842.30,640.00 C842.73,631.28 843.12,620.00 843.50,610.00 C843.88,600.00 844.30,587.33 844.60,580.00 C844.90,572.67 845.10,569.08 845.30,566.00 C845.50,562.92 845.62,561.50 845.80,561.50 C845.98,561.50 846.17,562.92 846.40,566.00 C846.63,569.08 846.90,572.67 847.20,580.00 C847.50,587.33 847.87,600.00 848.20,610.00 C848.53,620.00 848.88,631.28 849.20,640.00 C849.52,648.72 849.77,654.87 850.10,662.30 C850.43,669.73 850.78,677.17 851.20,684.60 C851.62,692.03 852.10,700.67 852.60,706.90 C853.10,713.13 853.75,717.77 854.20,722.00 C854.65,726.23 854.85,729.67 855.30,732.30 C855.75,734.93 855.85,735.97 856.90,737.80 C857.95,739.63 859.65,741.47 861.60,743.30 C863.55,745.12 866.40,747.38 868.60,748.75 C870.80,750.12 872.90,750.84 874.80,751.50 C876.70,752.16 878.43,752.38 880.00,752.70 C881.57,753.02 882.53,753.22 884.20,753.40 C885.87,753.58 888.03,753.68 890.00,753.80 C891.97,753.92 895.00,754.08 896.00,754.13 L896.32,754.13 L896.65,754.13 L896.97,754.13 L897.29,754.13 L897.62,754.13 L897.94,754.13 L898.26,754.13 L898.59,754.13 L898.91,754.13 L899.23,754.13 L899.56,754.13 L899.88,754.13 L900.20,754.13 L900.52,754.13 L900.85,754.13 L901.17,754.13 L901.49,754.13 L901.82,754.13 L902.14,754.13 L902.46,754.13 L902.79,754.13 L903.11,754.13 L903.43,754.13 L903.76,754.13 L904.08,754.13 L904.40,754.13 L904.73,754.13 L905.05,754.13 L905.37,754.13 L905.70,754.13 L906.02,754.13 L906.34,754.13 L906.67,754.13 L906.99,754.13 L907.31,754.13 L907.64,754.13 L907.96,754.13 L908.28,754.13 L908.60,754.13 L908.93,754.13 L909.25,754.13 L909.57,754.13 L909.90,754.13 L910.22,754.13 L910.54,754.13 L910.87,754.13 L911.19,754.13 L911.51,754.13 L911.84,754.13 L912.16,754.13 L912.48,754.13 L912.81,754.13 L913.13,754.13 L913.45,754.13 L913.78,754.13 L914.10,754.13 L914.42,754.13 L914.75,754.13 L915.07,754.13 L915.39,754.13 L915.72,754.13 L916.04,754.13 L916.36,754.13 L916.68,754.13 L917.01,754.13 L917.33,754.13 L917.65,754.13 L917.98,754.13 L918.30,754.13 L918.62,754.13 L918.95,754.13 L919.27,754.13 L919.59,754.13 L919.92,754.13 L920.24,754.13 L920.56,754.13 L920.89,754.13 L921.21,754.13 L921.53,754.13 L921.86,754.13 L922.18,754.13 L922.50,754.13 L922.83,754.13 L923.15,754.13 L923.47,754.13 L923.80,754.13 L924.12,754.13 L924.44,754.13 L924.76,754.13 L925.09,754.13 L925.41,754.13 L925.73,754.13 L926.06,754.13 L926.38,754.13 L926.70,754.13 L927.03,754.13 L927.35,754.13 L927.67,754.13 L928.00,754.13 L928.32,754.13 L928.64,754.13 L928.97,754.13 L929.29,754.13 L929.61,754.13 L929.94,754.13 L930.26,754.13 L930.58,754.13 L930.91,754.13 L931.23,754.13 L931.55,754.13 L931.88,754.13 L932.20,754.13 L932.52,754.13 L932.84,754.13 L933.17,754.13 L933.49,754.13 L933.81,754.13 L934.14,754.13 L934.46,754.13 L934.78,754.13 L935.11,754.13 L935.43,754.13 L935.75,754.13 L936.08,754.13 L936.40,754.13 L936.72,754.13 L937.05,754.13 L937.37,754.13 L937.69,754.13 L938.02,754.13 L938.34,754.13 L938.66,754.13 L938.99,754.13 L939.31,754.13 L939.63,754.13 L939.96,754.13 L940.28,754.13 L940.60,754.13 L940.92,754.13 L941.25,754.13 L941.57,754.13 L941.89,754.13 L942.22,754.13 L942.54,754.13 L942.86,754.13 L943.19,754.13 L943.51,754.13 L943.83,754.13 L944.16,754.13 L944.48,754.13 L944.80,754.13 L945.13,754.13 L945.45,754.13 L945.77,754.13 L946.10,754.13 L946.42,754.13 L946.74,754.13 L947.07,754.13 L947.39,754.13 L947.71,754.13 L948.04,754.13 L948.36,754.13 L948.68,754.13 L949.00,754.13 L949.33,754.13 L949.65,754.13 L949.97,754.13 L950.30,754.13 L950.62,754.13 L950.94,754.13 L951.27,754.13 L951.59,754.13 L951.91,754.13 L952.24,754.13 L952.56,754.13 L952.88,754.13 L953.21,754.13 L953.53,754.13 L953.85,754.13 L954.18,754.13 L954.50,754.13 L954.82,754.13 L955.15,754.13 L955.47,754.13 L955.79,754.13 L956.12,754.13 L956.44,754.13 L956.76,754.13 L957.08,754.13 L957.41,754.13 L957.73,754.13 L958.05,754.13 L958.38,754.13 L958.70,754.13 L959.02,754.13 L959.35,754.13 L959.67,754.13 L959.99,754.13 L960.32,754.13 L960.64,754.13 L960.96,754.13 L961.29,754.13 L961.61,754.13 L961.93,754.13 L962.26,754.13 L962.58,754.13 L962.90,754.13 L963.23,754.13 L963.55,754.13 L963.87,754.13 L964.20,754.13 L964.52,754.13 L964.84,754.13 L965.16,754.13 L965.49,754.13 L965.81,754.13 L966.13,754.13 L966.46,754.13 L966.78,754.13 L967.10,754.13 L967.43,754.13 L967.75,754.13 L968.07,754.13 L968.40,754.13 L968.72,754.13 L969.04,754.13 L969.37,754.13 L969.69,754.13 L970.01,754.13 L970.34,754.13 L970.66,754.13 L970.98,754.13 L971.31,754.13 L971.63,754.13 L971.95,754.13 L972.28,754.13 L972.60,754.13 L972.92,754.13 L973.24,754.13 L973.57,754.13 L973.89,754.13 L974.21,754.13 L974.54,754.13 L974.86,754.13 L975.18,754.13 L975.51,754.13 L975.83,754.13 L976.15,754.13 L976.48,754.13 L976.80,754.13 L977.12,754.13 L977.45,754.13 L977.77,754.13 L978.09,754.13 L978.42,754.13 L978.74,754.13 L979.06,754.13 L979.39,754.13 L979.71,754.13 L980.03,754.13 L980.36,754.13 L980.68,754.13 L981.00,754.13 L981.32,754.13 L981.65,754.13 L981.97,754.13 L982.29,754.13 L982.62,754.13 L982.94,754.13 L983.26,754.13 L983.59,754.13 L983.91,754.13 L984.23,754.13 L984.56,754.13 L984.88,754.13 L985.20,754.13 L985.53,754.13 L985.85,754.13 L986.17,754.13 L986.50,754.13 L986.82,754.13 L987.14,754.13 L987.47,754.13 L987.79,754.13 L988.11,754.13 L988.44,754.13 L988.76,754.13 L989.08,754.13 L989.40,754.13 L989.73,754.13 L990.05,754.13 L990.37,754.13 L990.70,754.13 L991.02,754.13 L991.34,754.13 L991.67,754.13 L991.99,754.13 L992.31,754.13 L992.64,754.13 L992.96,754.13 L993.28,754.13 L993.61,754.13 L993.93,754.13 L994.25,754.13 L994.58,754.13 L994.90,754.13 L995.22,754.13 L995.55,754.13 L995.87,754.13 L996.19,754.13 L996.52,754.13 L996.84,754.13 L997.16,754.13 L997.48,754.13 L997.81,754.13 L998.13,754.13 L998.45,754.13 L998.78,754.13 L999.10,754.13 L999.42,754.13 L999.75,754.13 L1000.07,754.13 L1000.39,754.13 L1000.72,754.13 L1001.04,754.13 L1001.36,754.13 L1001.69,754.13 L1002.01,754.13 L1002.33,754.13 L1002.66,754.13 L1002.98,754.13" fill="none" stroke="#862000" stroke-width="3.8" stroke-linejoin="round" stroke-linecap="butt"/>
<path d="M162.90,942.90 C163.63,944.07 165.83,948.30 167.30,949.90 C168.77,951.50 170.08,951.83 171.70,952.50 C173.32,953.17 175.25,953.17 177.00,953.90 C178.75,954.63 180.73,956.68 182.20,956.90 C183.67,957.12 184.47,956.95 185.80,955.20 C187.13,953.45 188.45,949.18 190.20,946.40 C191.95,943.62 194.55,939.53 196.30,938.50 C198.05,937.47 199.08,939.23 200.70,940.20 C202.32,941.17 203.65,943.33 206.00,944.30 C208.35,945.27 212.75,946.23 214.80,946.00 C216.85,945.77 216.98,944.75 218.30,942.90 C219.62,941.05 221.38,936.52 222.70,934.90 C224.02,933.28 225.03,932.90 226.20,933.20 C227.37,933.50 228.53,935.53 229.70,936.70 C230.87,937.87 231.88,939.77 233.20,940.20 C234.52,940.63 236.28,938.85 237.60,939.30 C238.92,939.75 239.78,941.37 241.10,942.90 C242.42,944.43 244.03,947.63 245.50,948.50 C246.97,949.37 248.28,947.87 249.90,948.10 C251.52,948.33 253.43,949.55 255.20,949.90 C256.97,950.25 258.88,949.47 260.50,950.20 C262.12,950.93 263.43,952.88 264.90,954.30 C266.37,955.72 267.70,957.73 269.30,958.70 C270.90,959.67 272.60,960.68 274.50,960.10 C276.40,959.52 278.78,955.88 280.70,955.20 C282.62,954.52 284.10,956.30 286.00,956.00 C287.90,955.70 289.92,953.48 292.10,953.40 C294.28,953.32 296.75,955.20 299.10,955.50 C301.45,955.80 303.85,954.82 306.20,955.20 C308.55,955.58 310.87,958.17 313.20,957.80 C315.53,957.43 318.45,953.43 320.20,953.00 C321.95,952.57 322.38,953.67 323.70,955.20 C325.02,956.73 326.48,960.38 328.10,962.20 C329.72,964.02 331.87,966.40 333.40,966.10 C334.93,965.80 335.92,963.98 337.30,960.40 C338.68,956.82 340.23,948.12 341.70,944.60 C343.17,941.08 344.63,939.58 346.10,939.30 C347.57,939.02 349.03,940.98 350.50,942.90 C351.97,944.82 353.58,948.82 354.90,950.80 C356.22,952.78 357.23,955.25 358.40,954.80 C359.57,954.35 360.58,950.97 361.90,948.10 C363.22,945.23 365.13,939.42 366.30,937.60 C367.47,935.78 367.87,936.32 368.90,937.20 C369.93,938.08 371.32,941.08 372.50,942.90 C373.68,944.72 374.68,946.78 376.00,948.10 C377.32,949.42 378.80,949.33 380.40,950.80 C382.00,952.27 383.85,955.35 385.60,956.90 C387.35,958.45 389.13,959.37 390.90,960.10 C392.67,960.83 394.30,961.48 396.20,961.30 C398.10,961.12 400.55,959.58 402.30,959.00 C404.05,958.42 405.23,958.88 406.70,957.80 C408.17,956.72 409.78,953.88 411.10,952.50 C412.42,951.12 413.13,949.70 414.60,949.50 C416.07,949.30 418.13,951.07 419.90,951.30 C421.67,951.53 423.43,950.70 425.20,950.90 C426.97,951.10 428.75,951.07 430.50,952.50 C432.25,953.93 433.95,957.53 435.70,959.50 C437.45,961.47 438.95,962.92 441.00,964.30 C443.05,965.68 445.65,966.53 448.00,967.80 C450.35,969.07 453.05,972.10 455.10,971.90 C457.15,971.70 458.55,968.22 460.30,966.60 C462.05,964.98 463.98,963.67 465.60,962.20 C467.22,960.73 468.68,958.97 470.00,957.80 C471.32,956.63 472.33,954.92 473.50,955.20 C474.67,955.48 475.68,957.32 477.00,959.50 C478.32,961.68 479.93,966.45 481.40,968.30 C482.87,970.15 484.33,970.60 485.80,970.60 C487.27,970.60 488.58,969.70 490.20,968.30 C491.82,966.90 493.88,964.10 495.50,962.20 C497.12,960.30 498.23,957.43 499.90,956.90 C501.57,956.37 503.53,958.35 505.50,959.00 C507.47,959.65 509.78,960.85 511.70,960.80 C513.62,960.75 515.38,958.53 517.00,958.70 C518.62,958.87 519.93,960.48 521.40,961.80 C522.87,963.12 524.33,965.30 525.80,966.60 C527.27,967.90 528.75,969.52 530.20,969.60 C531.65,969.68 532.75,968.68 534.50,967.10 C536.25,965.52 538.78,961.27 540.70,960.10 C542.62,958.93 544.25,961.07 546.00,960.10 C547.75,959.13 549.45,956.07 551.20,954.30 C552.95,952.53 554.88,949.80 556.50,949.50 C558.12,949.20 559.58,950.68 560.90,952.50 C562.22,954.32 563.08,958.55 564.40,960.40 C565.72,962.25 566.88,963.60 568.80,963.60 C570.72,963.60 573.85,961.08 575.90,960.40 C577.95,959.72 579.50,960.67 581.10,959.50 C582.70,958.33 584.03,955.20 585.50,953.40 C586.97,951.60 588.28,949.05 589.90,948.70 C591.52,948.35 593.43,950.52 595.20,951.30 C596.97,952.08 598.60,953.35 600.50,953.40 C602.40,953.45 604.55,951.83 606.60,951.60 C608.65,951.37 610.75,952.23 612.80,952.00 C614.85,951.77 617.15,951.00 618.90,950.20 C620.65,949.40 621.98,948.18 623.30,947.20 C624.62,946.22 625.48,944.58 626.80,944.30 C628.12,944.02 629.73,944.72 631.20,945.50 C632.67,946.28 634.13,948.85 635.60,949.00 C637.07,949.15 638.68,947.13 640.00,946.40 C641.32,945.67 642.33,944.32 643.50,944.60 C644.67,944.88 645.68,946.63 647.00,948.10 C648.32,949.57 649.78,951.87 651.40,953.40 C653.02,954.93 655.08,955.90 656.70,957.30 C658.32,958.70 659.48,960.17 661.10,961.80 C662.72,963.43 664.87,965.87 666.40,967.10 C667.93,968.33 668.92,968.27 670.30,969.20 C671.68,970.13 673.23,972.70 674.70,972.70 C676.17,972.70 677.63,970.30 679.10,969.20 C680.57,968.10 681.75,966.38 683.50,966.10 C685.25,965.82 687.12,966.92 689.60,967.50 C692.08,968.08 695.77,969.47 698.40,969.60 C701.03,969.73 703.05,969.00 705.40,968.30 C707.75,967.60 710.15,965.60 712.50,965.40 C714.85,965.20 717.32,966.90 719.50,967.10 C721.68,967.30 723.70,966.53 725.60,966.60 C727.50,966.67 728.70,967.88 730.90,967.50 C733.10,967.12 736.75,964.45 738.80,964.30 C740.85,964.15 741.73,965.72 743.20,966.60 C744.67,967.48 745.70,969.02 747.60,969.60 C749.50,970.18 752.25,969.63 754.60,970.10 C756.95,970.57 759.35,971.97 761.70,972.40 C764.05,972.83 766.65,972.88 768.70,972.70 C770.75,972.52 771.95,971.35 774.00,971.30 C776.05,971.25 778.95,972.90 781.00,972.40 C783.05,971.90 784.68,969.47 786.30,968.30 C787.92,967.13 788.95,965.98 790.70,965.40 C792.45,964.82 794.90,965.33 796.80,964.80 C798.70,964.27 800.48,963.52 802.10,962.20 C803.72,960.88 805.03,958.80 806.50,956.90 C807.97,955.00 809.43,952.42 810.90,950.80 C812.37,949.18 813.83,948.08 815.30,947.20 C816.77,946.32 818.23,945.50 819.70,945.50 C821.17,945.50 822.78,947.93 824.10,947.20 C825.42,946.47 826.53,944.60 827.60,941.10 C828.67,937.60 829.53,933.57 830.50,926.20 C831.47,918.83 832.42,909.92 833.40,896.90 C834.38,883.88 835.48,862.75 836.40,848.10 C837.32,833.45 838.10,820.38 838.90,809.00 C839.70,797.62 840.55,784.83 841.20,779.80 C841.85,774.77 842.30,778.48 842.80,778.80 C843.30,779.12 843.75,781.70 844.20,781.70 C844.65,781.70 844.85,775.87 845.50,778.80 C846.15,781.73 847.18,789.38 848.10,799.30 C849.02,809.22 850.03,825.28 851.00,838.30 C851.97,851.32 852.92,865.68 853.90,877.40 C854.88,889.12 855.75,899.82 856.90,908.60 C858.05,917.38 859.35,924.23 860.80,930.10 C862.25,935.97 863.92,939.90 865.60,943.80 C867.28,947.70 869.43,952.53 870.90,953.50 C872.37,954.47 873.00,952.52 874.40,949.60 C875.80,946.68 877.93,938.87 879.30,936.00 C880.67,933.13 881.38,931.98 882.60,932.40 C883.82,932.82 885.05,935.95 886.60,938.50 C888.15,941.05 890.47,944.85 891.90,947.70 C893.33,950.55 894.22,952.97 895.20,955.60 C896.18,958.23 896.82,961.42 897.80,963.50 C898.78,965.58 899.67,967.33 901.10,968.10 C902.53,968.87 904.87,968.43 906.40,968.10 C907.93,967.77 908.77,967.20 910.30,966.10 C911.83,965.00 913.83,962.48 915.60,961.50 C917.37,960.52 919.15,960.75 920.90,960.20 C922.65,959.65 924.45,958.85 926.10,958.20 C927.75,957.55 929.03,956.40 930.80,956.30 C932.57,956.20 934.73,957.60 936.70,957.60 C938.67,957.60 940.95,956.30 942.60,956.30 C944.25,956.30 945.17,956.95 946.60,957.60 C948.03,958.25 949.55,959.98 951.20,960.20 C952.85,960.42 954.52,958.90 956.50,958.90 C958.48,958.90 961.35,960.75 963.10,960.20 C964.85,959.65 965.68,957.47 967.00,955.60 C968.32,953.73 969.68,950.65 971.00,949.00 C972.32,947.35 973.37,946.03 974.90,945.70 C976.43,945.37 978.43,946.23 980.20,947.00 C981.97,947.77 983.75,949.13 985.50,950.30 C987.25,951.47 989.17,953.55 990.70,954.00 C992.23,954.45 993.37,953.62 994.70,953.00 C996.03,952.38 997.38,951.08 998.70,950.30 C1000.02,949.52 1001.95,948.63 1002.60,948.30" fill="none" stroke="#0000f2" stroke-width="3.9" stroke-linejoin="round" stroke-linecap="butt"/>
<path d="M787.3,360.9 L646.1,309.8 L636,296" fill="none" stroke="#000" stroke-width="1.8"/>
<path d="M627.2,286.4 L642,297.7 L635.2,303.6 Z" fill="#000"/>
<path d="M941.9,369.6 L962.8,318" fill="none" stroke="#000" stroke-width="1.8"/>
<path d="M965.2,301.2 L958.6,318.4 L967.5,319.6 Z" fill="#000"/>
<text x="70.5" y="54.5" font-size="29.0" text-anchor="end" fill="#000" style="" >8</text>
<text x="70.5" y="150.0" font-size="29.0" text-anchor="end" fill="#000" style="" >4</text>
<text x="70.5" y="244.0" font-size="29.0" text-anchor="end" fill="#000" style="" >0</text>
<text x="126.1" y="269.7" font-size="28.0" text-anchor="middle" fill="#000" style="" >1000</text>
<text x="288.5" y="269.7" font-size="28.0" text-anchor="middle" fill="#000" style="" >1500</text>
<text x="448.2" y="269.7" font-size="28.0" text-anchor="middle" fill="#000" style="" >2000</text>
<text x="612.5" y="269.7" font-size="28.0" text-anchor="middle" fill="#000" style="" >2500</text>
<text x="369.5" y="286.3" font-size="28.5" text-anchor="middle" fill="#000" style="" >M/Z</text>
<text x="0.0" y="0.0" font-size="29.4" text-anchor="middle" fill="#000" style="" transform="translate(28.5,132.5) rotate(-90)">Mass Counts (a.u.)</text>
<text x="677.0" y="45.8" font-size="30.5" text-anchor="start" fill="#000" style="" >(b)</text>
<text x="98.5" y="35.4" font-size="27.0" fill="#7204e0">N<tspan font-size="19.4" dy="7">Ag</tspan><tspan dy="-7">= 10</tspan></text>
<text x="111.8" y="71.2" font-size="27.0" fill="#7204e0">n<tspan font-size="19.4" dy="7">s</tspan><tspan dy="-7">= 1</tspan></text>
<text x="171.2" y="114.1" font-size="27.0" fill="#16bf10">N<tspan font-size="19.4" dy="7">Ag</tspan><tspan dy="-7">= 11</tspan></text>
<text x="184.5" y="149.0" font-size="27.0" fill="#16bf10">n<tspan font-size="19.4" dy="7">s</tspan><tspan dy="-7">= 1</tspan></text>
<text x="571.4" y="85.5" font-size="27.0" fill="#0000f2">N<tspan font-size="19.4" dy="7">Ag</tspan><tspan dy="-7">= 21</tspan></text>
<text x="584.7" y="120.7" font-size="27.0" fill="#0000f2">n<tspan font-size="19.4" dy="7">s</tspan><tspan dy="-7">= 2</tspan></text>
<text x="116.0" y="150.0" font-size="28.0" text-anchor="start" fill="#000" style="" >-6</text>
<text x="181.4" y="194.0" font-size="28.0" text-anchor="start" fill="#000" style="" >-5</text>
<text x="307.8" y="42.5" font-size="28.0" text-anchor="start" fill="#0000f2" style="" >-7</text>
<text x="380.5" y="40.5" font-size="26.5" text-anchor="start" fill="#e60012" style="font-style:italic;" >1868</text>
<text x="376.8" y="99.8" font-size="27.5" text-anchor="start" fill="#0000f2" style="" >-6</text>
<text x="497.2" y="137.7" font-size="27.5" text-anchor="start" fill="#0000f2" style="" >-5</text>
<text x="673.7" y="177.5" font-size="28.0" text-anchor="start" fill="#0000f2" style="" >-4</text>
<text x="822.8" y="218.0" font-size="28.2" text-anchor="end" fill="#000" style="" >0.0</text>
<text x="822.8" y="145.2" font-size="28.2" text-anchor="end" fill="#000" style="" >0.5</text>
<text x="822.8" y="72.4" font-size="28.2" text-anchor="end" fill="#000" style="" >1.0</text>
<text x="835.1" y="246.8" font-size="28.0" text-anchor="middle" fill="#000" style="" >350</text>
<text x="887.2" y="246.8" font-size="28.0" text-anchor="middle" fill="#000" style="" >500</text>
<text x="939.4" y="246.8" font-size="28.0" text-anchor="middle" fill="#000" style="" >650</text>
<text x="991.5" y="246.8" font-size="28.0" text-anchor="middle" fill="#000" style="" >800</text>
<text x="905.0" y="277.3" font-size="28.3" text-anchor="middle" fill="#000" style="" >Wavelength (nm)</text>
<text x="0.0" y="0.0" font-size="29.9" text-anchor="middle" fill="#000" style="" transform="translate(777,124.8) rotate(-90)">Emission (a.u.)</text>
<text x="909.0" y="51.3" font-size="29.0" text-anchor="middle" fill="#e60012" style="" >558 nm</text>
<text x="952.0" y="120.0" font-size="30.0" text-anchor="start" fill="#000" style="" >(c)</text>
<text x="227.3" y="1023.0" font-size="29.0" text-anchor="middle" fill="#000" style="" >10</text>
<text x="356.6" y="1023.0" font-size="29.0" text-anchor="middle" fill="#000" style="" >12</text>
<text x="485.9" y="1023.0" font-size="29.0" text-anchor="middle" fill="#000" style="" >14</text>
<text x="615.1" y="1023.0" font-size="29.0" text-anchor="middle" fill="#000" style="" >16</text>
<text x="744.4" y="1023.0" font-size="29.0" text-anchor="middle" fill="#000" style="" >18</text>
<text x="873.7" y="1023.0" font-size="29.0" text-anchor="middle" fill="#000" style="" >20</text>
<text x="1003.0" y="1023.0" font-size="29.0" text-anchor="middle" fill="#000" style="" >22</text>
<text x="593.3" y="1062.5" font-size="32.4" text-anchor="middle" fill="#000" style="" >Time (Minutes)</text>
<text x="140.7" y="545.9" font-size="29.0" text-anchor="end" fill="#000" style="" >0</text>
<text x="140.7" y="448.2" font-size="29.0" text-anchor="end" fill="#000" style="" >60</text>
<text x="140.7" y="350.5" font-size="29.0" text-anchor="end" fill="#000" style="" >120</text>
<text x="140.7" y="763.2" font-size="29.0" text-anchor="end" fill="#000" style="" >0</text>
<text x="140.7" y="671.0" font-size="29.0" text-anchor="end" fill="#000" style="" >3000</text>
<text x="140.7" y="578.8" font-size="29.0" text-anchor="end" fill="#000" style="" >6000</text>
<text x="140.7" y="979.2" font-size="29.0" text-anchor="end" fill="#000" style="" >0</text>
<text x="140.7" y="883.3" font-size="29.0" text-anchor="end" fill="#000" style="" >150</text>
<text x="140.7" y="787.4" font-size="29.0" text-anchor="end" fill="#000" style="" >300</text>
<text x="177.6" y="377.1" font-size="32.3" style="font-style:italic">(a) Absorbance at 260 nm</text>
<text x="177.6" y="460.2" font-size="28.5">2<tspan font-size="20" dy="-18">nd</tspan><tspan dy="18"> stage HPLC, with tandem MS</tspan></text>
<text x="177.6" y="493.3" font-size="28.5">IP buffer: HFIP/TEA</text>
<text x="182.9" y="605.7" font-size="32.4" style="font-style:italic">(d) Fluorescence Intensity at <tspan fill="#e60012">558 nm</tspan></text>
<text x="193" y="823.2" font-size="32.2" style="font-style:italic">(e) Total Ion Current at <tspan fill="#e60012">M/Z=1868</tspan></text>
<text x="665.0" y="393.6" font-size="29.0" text-anchor="middle" fill="#000" style="" >16.7 minutes</text>
<text x="661.0" y="425.9" font-size="29.0" text-anchor="middle" fill="#000" style="" >(dark)</text>
<text x="864.0" y="382.0" font-size="29.0" text-anchor="middle" fill="#e60012" style="" >19.5 minutes</text>
<text font-size="33.5" text-anchor="middle" transform="translate(59.2,456.7) rotate(-90)">A<tspan font-size="25" dy="7.5">260</tspan><tspan dy="-7.5" dx="2.5" font-size="31">(a.u.)</tspan></text>
<text x="0.0" y="0.0" font-size="32.9" text-anchor="middle" fill="#000" style="" transform="translate(64.4,665.6) rotate(-90)">Emission (a.u.)</text>
<text x="0.0" y="0.0" font-size="33.2" text-anchor="middle" fill="#000" style="" transform="translate(35.2,888.4) rotate(-90)">Total Ion</text>
<text x="0.0" y="0.0" font-size="33.0" text-anchor="middle" fill="#000" style="" transform="translate(71.2,883.9) rotate(-90)">Current (a.u.)</text>
</svg>
</body></html>
